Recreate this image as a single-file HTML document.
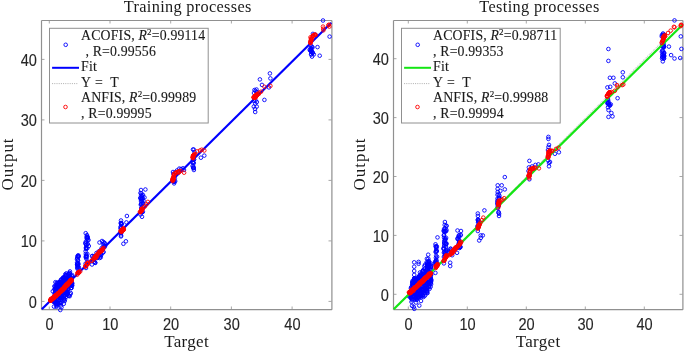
<!DOCTYPE html>
<html><head><meta charset="utf-8"><style>
html,body{margin:0;padding:0;background:#fff;width:685px;height:352px;overflow:hidden}
svg{display:block;will-change:transform}
.tk{font-family:"Liberation Sans",sans-serif;font-size:15.6px;fill:#262626;stroke:#262626;stroke-width:0.12px}
.ti{font-family:"Liberation Serif",serif;font-size:16.3px;fill:#1a1a1a}
.xl{font-family:"Liberation Serif",serif;font-size:17px;fill:#1a1a1a}
.lg{font-family:"Liberation Serif",serif;font-size:13.8px;fill:#1a1a1a;stroke:#1a1a1a;stroke-width:0.12px}
</style></head><body>
<svg width="685" height="352" viewBox="0 0 685 352">
<rect width="685" height="352" fill="#fff"/>
<path d="M41.5,20.5H331.9M41.5,309.7H331.9M41.5,20.5V309.7M331.9,20.5V309.7" fill="none" stroke="#909090" stroke-width="1.2"/>
<line x1="49.3" y1="309.5" x2="49.3" y2="306.5" stroke="#909090" stroke-width="0.8"/>
<line x1="49.3" y1="20.5" x2="49.3" y2="23.5" stroke="#909090" stroke-width="0.8"/>
<line x1="110.0" y1="309.5" x2="110.0" y2="306.5" stroke="#909090" stroke-width="0.8"/>
<line x1="110.0" y1="20.5" x2="110.0" y2="23.5" stroke="#909090" stroke-width="0.8"/>
<line x1="170.7" y1="309.5" x2="170.7" y2="306.5" stroke="#909090" stroke-width="0.8"/>
<line x1="170.7" y1="20.5" x2="170.7" y2="23.5" stroke="#909090" stroke-width="0.8"/>
<line x1="231.40000000000003" y1="309.5" x2="231.40000000000003" y2="306.5" stroke="#909090" stroke-width="0.8"/>
<line x1="231.40000000000003" y1="20.5" x2="231.40000000000003" y2="23.5" stroke="#909090" stroke-width="0.8"/>
<line x1="292.1" y1="309.5" x2="292.1" y2="306.5" stroke="#909090" stroke-width="0.8"/>
<line x1="292.1" y1="20.5" x2="292.1" y2="23.5" stroke="#909090" stroke-width="0.8"/>
<line x1="41.5" y1="301.4" x2="44.5" y2="301.4" stroke="#909090" stroke-width="0.8"/>
<line x1="331.5" y1="301.4" x2="328.5" y2="301.4" stroke="#909090" stroke-width="0.8"/>
<line x1="41.5" y1="240.89999999999998" x2="44.5" y2="240.89999999999998" stroke="#909090" stroke-width="0.8"/>
<line x1="331.5" y1="240.89999999999998" x2="328.5" y2="240.89999999999998" stroke="#909090" stroke-width="0.8"/>
<line x1="41.5" y1="180.39999999999998" x2="44.5" y2="180.39999999999998" stroke="#909090" stroke-width="0.8"/>
<line x1="331.5" y1="180.39999999999998" x2="328.5" y2="180.39999999999998" stroke="#909090" stroke-width="0.8"/>
<line x1="41.5" y1="119.89999999999998" x2="44.5" y2="119.89999999999998" stroke="#909090" stroke-width="0.8"/>
<line x1="331.5" y1="119.89999999999998" x2="328.5" y2="119.89999999999998" stroke="#909090" stroke-width="0.8"/>
<line x1="41.5" y1="59.39999999999998" x2="44.5" y2="59.39999999999998" stroke="#909090" stroke-width="0.8"/>
<line x1="331.5" y1="59.39999999999998" x2="328.5" y2="59.39999999999998" stroke="#909090" stroke-width="0.8"/>
<text transform="translate(49.6,330.2) scale(0.935,1)" text-anchor="middle" class="tk">0</text>
<text transform="translate(110.3,330.2) scale(0.935,1)" text-anchor="middle" class="tk">10</text>
<text transform="translate(171.0,330.2) scale(0.935,1)" text-anchor="middle" class="tk">20</text>
<text transform="translate(231.7,330.2) scale(0.935,1)" text-anchor="middle" class="tk">30</text>
<text transform="translate(292.4,330.2) scale(0.935,1)" text-anchor="middle" class="tk">40</text>
<text transform="translate(36.9,307.9) scale(0.935,1)" text-anchor="end" class="tk">0</text>
<text transform="translate(36.9,247.4) scale(0.935,1)" text-anchor="end" class="tk">10</text>
<text transform="translate(36.9,186.9) scale(0.935,1)" text-anchor="end" class="tk">20</text>
<text transform="translate(36.9,126.4) scale(0.935,1)" text-anchor="end" class="tk">30</text>
<text transform="translate(36.9,65.9) scale(0.935,1)" text-anchor="end" class="tk">40</text>
<g fill="none" stroke="#0000ff" stroke-width="0.9"><circle cx="69.2" cy="283.4" r="1.8"/><circle cx="57.2" cy="293.2" r="1.8"/><circle cx="55.9" cy="288.3" r="1.8"/><circle cx="56.8" cy="292.7" r="1.8"/><circle cx="61.3" cy="290.9" r="1.8"/><circle cx="67.2" cy="279.4" r="1.8"/><circle cx="68.1" cy="279.0" r="1.8"/><circle cx="67.5" cy="281.0" r="1.8"/><circle cx="68.8" cy="281.0" r="1.8"/><circle cx="57.6" cy="301.8" r="1.8"/><circle cx="57.0" cy="294.0" r="1.8"/><circle cx="69.3" cy="278.0" r="1.8"/><circle cx="63.7" cy="278.2" r="1.8"/><circle cx="54.4" cy="298.5" r="1.8"/><circle cx="60.5" cy="297.3" r="1.8"/><circle cx="65.4" cy="284.4" r="1.8"/><circle cx="61.5" cy="307.3" r="1.8"/><circle cx="59.0" cy="292.1" r="1.8"/><circle cx="62.9" cy="279.2" r="1.8"/><circle cx="68.7" cy="276.0" r="1.8"/><circle cx="66.4" cy="291.4" r="1.8"/><circle cx="61.4" cy="297.8" r="1.8"/><circle cx="54.8" cy="289.3" r="1.8"/><circle cx="65.3" cy="279.9" r="1.8"/><circle cx="70.5" cy="284.6" r="1.8"/><circle cx="63.7" cy="297.8" r="1.8"/><circle cx="68.7" cy="282.0" r="1.8"/><circle cx="60.4" cy="291.4" r="1.8"/><circle cx="60.6" cy="298.4" r="1.8"/><circle cx="61.1" cy="288.9" r="1.8"/><circle cx="67.5" cy="290.0" r="1.8"/><circle cx="57.1" cy="287.0" r="1.8"/><circle cx="69.6" cy="275.3" r="1.8"/><circle cx="68.4" cy="274.0" r="1.8"/><circle cx="55.1" cy="302.3" r="1.8"/><circle cx="55.7" cy="291.3" r="1.8"/><circle cx="60.0" cy="284.2" r="1.8"/><circle cx="57.4" cy="293.3" r="1.8"/><circle cx="72.1" cy="282.9" r="1.8"/><circle cx="55.2" cy="291.8" r="1.8"/><circle cx="66.0" cy="287.5" r="1.8"/><circle cx="68.3" cy="278.0" r="1.8"/><circle cx="64.7" cy="301.0" r="1.8"/><circle cx="68.7" cy="277.1" r="1.8"/><circle cx="71.6" cy="276.0" r="1.8"/><circle cx="71.4" cy="283.8" r="1.8"/><circle cx="55.3" cy="290.7" r="1.8"/><circle cx="56.6" cy="294.0" r="1.8"/><circle cx="65.7" cy="278.3" r="1.8"/><circle cx="69.6" cy="273.0" r="1.8"/><circle cx="64.2" cy="277.0" r="1.8"/><circle cx="57.8" cy="286.0" r="1.8"/><circle cx="66.1" cy="293.0" r="1.8"/><circle cx="60.5" cy="287.1" r="1.8"/><circle cx="58.2" cy="283.6" r="1.8"/><circle cx="60.8" cy="293.3" r="1.8"/><circle cx="68.7" cy="295.5" r="1.8"/><circle cx="66.7" cy="279.9" r="1.8"/><circle cx="57.6" cy="293.0" r="1.8"/><circle cx="55.3" cy="301.5" r="1.8"/><circle cx="65.1" cy="283.7" r="1.8"/><circle cx="57.5" cy="286.9" r="1.8"/><circle cx="61.1" cy="296.1" r="1.8"/><circle cx="63.0" cy="292.1" r="1.8"/><circle cx="70.9" cy="278.3" r="1.8"/><circle cx="69.3" cy="282.2" r="1.8"/><circle cx="61.3" cy="286.8" r="1.8"/><circle cx="60.9" cy="295.9" r="1.8"/><circle cx="57.9" cy="295.2" r="1.8"/><circle cx="56.5" cy="297.3" r="1.8"/><circle cx="60.9" cy="283.9" r="1.8"/><circle cx="58.2" cy="294.4" r="1.8"/><circle cx="60.1" cy="286.8" r="1.8"/><circle cx="68.1" cy="286.2" r="1.8"/><circle cx="68.6" cy="277.3" r="1.8"/><circle cx="57.8" cy="291.0" r="1.8"/><circle cx="68.3" cy="277.1" r="1.8"/><circle cx="59.9" cy="293.9" r="1.8"/><circle cx="72.0" cy="283.8" r="1.8"/><circle cx="61.8" cy="295.9" r="1.8"/><circle cx="55.4" cy="297.5" r="1.8"/><circle cx="63.0" cy="277.6" r="1.8"/><circle cx="60.7" cy="293.7" r="1.8"/><circle cx="63.3" cy="290.5" r="1.8"/><circle cx="53.9" cy="302.0" r="1.8"/><circle cx="71.2" cy="285.0" r="1.8"/><circle cx="57.2" cy="284.6" r="1.8"/><circle cx="56.6" cy="289.7" r="1.8"/><circle cx="64.1" cy="277.3" r="1.8"/><circle cx="56.3" cy="305.3" r="1.8"/><circle cx="66.5" cy="292.8" r="1.8"/><circle cx="71.3" cy="281.8" r="1.8"/><circle cx="63.3" cy="286.0" r="1.8"/><circle cx="56.7" cy="301.8" r="1.8"/><circle cx="65.6" cy="288.1" r="1.8"/><circle cx="66.1" cy="292.9" r="1.8"/><circle cx="64.7" cy="282.1" r="1.8"/><circle cx="67.0" cy="294.9" r="1.8"/><circle cx="62.5" cy="294.0" r="1.8"/><circle cx="68.8" cy="280.1" r="1.8"/><circle cx="58.5" cy="302.8" r="1.8"/><circle cx="69.5" cy="273.0" r="1.8"/><circle cx="57.8" cy="295.7" r="1.8"/><circle cx="65.8" cy="276.1" r="1.8"/><circle cx="54.8" cy="286.5" r="1.8"/><circle cx="59.7" cy="289.6" r="1.8"/><circle cx="65.5" cy="291.6" r="1.8"/><circle cx="66.5" cy="285.5" r="1.8"/><circle cx="69.1" cy="285.9" r="1.8"/><circle cx="55.5" cy="287.2" r="1.8"/><circle cx="64.1" cy="296.2" r="1.8"/><circle cx="57.1" cy="287.4" r="1.8"/><circle cx="64.7" cy="287.9" r="1.8"/><circle cx="60.9" cy="282.5" r="1.8"/><circle cx="57.0" cy="298.5" r="1.8"/><circle cx="70.7" cy="285.9" r="1.8"/><circle cx="68.1" cy="289.3" r="1.8"/><circle cx="63.3" cy="288.4" r="1.8"/><circle cx="56.4" cy="306.8" r="1.8"/><circle cx="61.3" cy="303.0" r="1.8"/><circle cx="63.9" cy="282.1" r="1.8"/><circle cx="55.0" cy="301.1" r="1.8"/><circle cx="67.4" cy="293.4" r="1.8"/><circle cx="58.6" cy="284.2" r="1.8"/><circle cx="66.6" cy="291.9" r="1.8"/><circle cx="67.4" cy="293.5" r="1.8"/><circle cx="66.5" cy="281.3" r="1.8"/><circle cx="60.2" cy="297.4" r="1.8"/><circle cx="66.2" cy="296.8" r="1.8"/><circle cx="64.6" cy="295.4" r="1.8"/><circle cx="57.3" cy="304.3" r="1.8"/><circle cx="64.6" cy="281.0" r="1.8"/><circle cx="56.1" cy="291.4" r="1.8"/><circle cx="65.2" cy="284.3" r="1.8"/><circle cx="67.0" cy="284.5" r="1.8"/><circle cx="72.0" cy="284.6" r="1.8"/><circle cx="60.1" cy="286.6" r="1.8"/><circle cx="65.7" cy="292.8" r="1.8"/><circle cx="58.7" cy="284.9" r="1.8"/><circle cx="63.1" cy="293.2" r="1.8"/><circle cx="67.8" cy="282.2" r="1.8"/><circle cx="60.4" cy="298.4" r="1.8"/><circle cx="54.7" cy="294.2" r="1.8"/><circle cx="63.3" cy="293.0" r="1.8"/><circle cx="59.6" cy="294.1" r="1.8"/><circle cx="59.7" cy="302.9" r="1.8"/><circle cx="64.0" cy="279.8" r="1.8"/><circle cx="57.2" cy="305.5" r="1.8"/><circle cx="72.0" cy="285.6" r="1.8"/><circle cx="59.9" cy="282.5" r="1.8"/><circle cx="59.4" cy="281.9" r="1.8"/><circle cx="58.4" cy="303.9" r="1.8"/><circle cx="55.2" cy="301.3" r="1.8"/><circle cx="70.2" cy="276.5" r="1.8"/><circle cx="70.5" cy="278.5" r="1.8"/><circle cx="57.3" cy="291.0" r="1.8"/><circle cx="65.9" cy="294.4" r="1.8"/><circle cx="61.1" cy="296.7" r="1.8"/><circle cx="66.3" cy="275.1" r="1.8"/><circle cx="62.2" cy="283.7" r="1.8"/><circle cx="60.6" cy="302.9" r="1.8"/><circle cx="61.5" cy="298.8" r="1.8"/><circle cx="54.8" cy="293.1" r="1.8"/><circle cx="61.0" cy="282.8" r="1.8"/><circle cx="60.6" cy="288.4" r="1.8"/><circle cx="59.8" cy="297.8" r="1.8"/><circle cx="69.9" cy="279.7" r="1.8"/><circle cx="55.2" cy="292.5" r="1.8"/><circle cx="65.0" cy="299.3" r="1.8"/><circle cx="69.9" cy="275.7" r="1.8"/><circle cx="58.6" cy="297.6" r="1.8"/><circle cx="60.8" cy="290.8" r="1.8"/><circle cx="67.7" cy="275.6" r="1.8"/><circle cx="58.2" cy="296.0" r="1.8"/><circle cx="65.9" cy="275.2" r="1.8"/><circle cx="60.8" cy="305.6" r="1.8"/><circle cx="58.5" cy="289.7" r="1.8"/><circle cx="71.0" cy="288.0" r="1.8"/><circle cx="68.7" cy="281.8" r="1.8"/><circle cx="58.3" cy="282.6" r="1.8"/><circle cx="56.1" cy="302.1" r="1.8"/><circle cx="68.5" cy="295.9" r="1.8"/><circle cx="63.6" cy="284.2" r="1.8"/><circle cx="59.9" cy="294.1" r="1.8"/><circle cx="56.5" cy="303.5" r="1.8"/><circle cx="60.3" cy="281.6" r="1.8"/><circle cx="61.9" cy="295.7" r="1.8"/><circle cx="67.0" cy="291.4" r="1.8"/><circle cx="62.7" cy="278.3" r="1.8"/><circle cx="57.2" cy="303.2" r="1.8"/><circle cx="59.1" cy="283.5" r="1.8"/><circle cx="67.6" cy="291.3" r="1.8"/><circle cx="70.2" cy="294.3" r="1.8"/><circle cx="66.8" cy="283.3" r="1.8"/><circle cx="59.3" cy="289.4" r="1.8"/><circle cx="61.2" cy="286.6" r="1.8"/><circle cx="61.8" cy="287.7" r="1.8"/><circle cx="69.0" cy="274.1" r="1.8"/><circle cx="59.4" cy="288.0" r="1.8"/><circle cx="57.4" cy="291.2" r="1.8"/><circle cx="65.1" cy="292.4" r="1.8"/><circle cx="55.3" cy="295.6" r="1.8"/><circle cx="54.7" cy="296.2" r="1.8"/><circle cx="56.2" cy="292.9" r="1.8"/><circle cx="54.5" cy="302.5" r="1.8"/><circle cx="64.0" cy="277.8" r="1.8"/><circle cx="64.0" cy="300.0" r="1.8"/><circle cx="63.8" cy="278.9" r="1.8"/><circle cx="61.1" cy="281.7" r="1.8"/><circle cx="59.4" cy="290.7" r="1.8"/><circle cx="56.3" cy="288.6" r="1.8"/><circle cx="63.6" cy="299.2" r="1.8"/><circle cx="64.6" cy="288.7" r="1.8"/><circle cx="56.6" cy="290.1" r="1.8"/><circle cx="64.8" cy="279.4" r="1.8"/><circle cx="61.2" cy="296.5" r="1.8"/><circle cx="55.9" cy="296.7" r="1.8"/><circle cx="70.8" cy="293.1" r="1.8"/><circle cx="64.7" cy="290.6" r="1.8"/><circle cx="59.5" cy="302.4" r="1.8"/><circle cx="57.0" cy="298.5" r="1.8"/><circle cx="70.0" cy="283.2" r="1.8"/><circle cx="54.4" cy="299.6" r="1.8"/><circle cx="63.2" cy="293.1" r="1.8"/><circle cx="65.5" cy="290.5" r="1.8"/><circle cx="72.1" cy="285.7" r="1.8"/><circle cx="56.6" cy="303.9" r="1.8"/><circle cx="57.7" cy="293.0" r="1.8"/><circle cx="56.1" cy="286.1" r="1.8"/><circle cx="63.8" cy="303.8" r="1.8"/><circle cx="55.5" cy="288.3" r="1.8"/><circle cx="61.3" cy="282.6" r="1.8"/><circle cx="69.7" cy="296.2" r="1.8"/><circle cx="67.5" cy="293.1" r="1.8"/><circle cx="71.6" cy="283.6" r="1.8"/><circle cx="58.0" cy="288.9" r="1.8"/><circle cx="61.4" cy="292.5" r="1.8"/><circle cx="57.7" cy="293.0" r="1.8"/><circle cx="72.1" cy="275.0" r="1.8"/><circle cx="72.0" cy="283.3" r="1.8"/><circle cx="68.1" cy="288.6" r="1.8"/><circle cx="59.6" cy="282.3" r="1.8"/><circle cx="71.6" cy="287.8" r="1.8"/><circle cx="54.4" cy="301.9" r="1.8"/><circle cx="56.7" cy="282.8" r="1.8"/><circle cx="70.9" cy="288.2" r="1.8"/><circle cx="57.3" cy="291.6" r="1.8"/><circle cx="67.2" cy="293.1" r="1.8"/><circle cx="68.5" cy="284.0" r="1.8"/><circle cx="71.6" cy="279.2" r="1.8"/><circle cx="55.4" cy="282.2" r="1.8"/><circle cx="54.5" cy="286.2" r="1.8"/><circle cx="54.5" cy="289.3" r="1.8"/><circle cx="61.0" cy="280.0" r="1.8"/><circle cx="65.3" cy="274.3" r="1.8"/><circle cx="61.1" cy="279.6" r="1.8"/><circle cx="66.3" cy="273.4" r="1.8"/><circle cx="69.9" cy="271.4" r="1.8"/><circle cx="54.0" cy="306.6" r="1.8"/><circle cx="60.3" cy="310.0" r="1.8"/><circle cx="52.8" cy="291.3" r="1.8"/><circle cx="57.0" cy="283.0" r="1.8"/><circle cx="78.5" cy="263.8" r="1.8"/><circle cx="77.9" cy="256.6" r="1.8"/><circle cx="78.6" cy="255.6" r="1.8"/><circle cx="78.3" cy="257.0" r="1.8"/><circle cx="78.0" cy="264.5" r="1.8"/><circle cx="77.5" cy="267.2" r="1.8"/><circle cx="77.6" cy="268.9" r="1.8"/><circle cx="77.9" cy="266.1" r="1.8"/><circle cx="78.0" cy="260.5" r="1.8"/><circle cx="77.2" cy="265.0" r="1.8"/><circle cx="77.1" cy="262.8" r="1.8"/><circle cx="77.9" cy="260.0" r="1.8"/><circle cx="77.6" cy="263.0" r="1.8"/><circle cx="78.9" cy="267.8" r="1.8"/><circle cx="77.7" cy="264.7" r="1.8"/><circle cx="78.4" cy="266.7" r="1.8"/><circle cx="78.4" cy="256.5" r="1.8"/><circle cx="77.3" cy="267.7" r="1.8"/><circle cx="77.6" cy="264.3" r="1.8"/><circle cx="77.1" cy="264.5" r="1.8"/><circle cx="77.6" cy="256.1" r="1.8"/><circle cx="77.0" cy="259.2" r="1.8"/><circle cx="78.0" cy="255.5" r="1.8"/><circle cx="77.2" cy="258.0" r="1.8"/><circle cx="86.2" cy="248.4" r="1.8"/><circle cx="87.8" cy="244.0" r="1.8"/><circle cx="86.0" cy="247.9" r="1.8"/><circle cx="86.2" cy="247.4" r="1.8"/><circle cx="86.7" cy="238.4" r="1.8"/><circle cx="87.3" cy="254.0" r="1.8"/><circle cx="87.3" cy="248.2" r="1.8"/><circle cx="85.8" cy="257.3" r="1.8"/><circle cx="87.6" cy="261.8" r="1.8"/><circle cx="87.2" cy="238.8" r="1.8"/><circle cx="86.1" cy="255.7" r="1.8"/><circle cx="85.5" cy="243.5" r="1.8"/><circle cx="86.4" cy="258.9" r="1.8"/><circle cx="85.5" cy="243.2" r="1.8"/><circle cx="87.0" cy="235.1" r="1.8"/><circle cx="86.2" cy="257.1" r="1.8"/><circle cx="86.6" cy="257.3" r="1.8"/><circle cx="86.0" cy="256.4" r="1.8"/><circle cx="85.8" cy="253.9" r="1.8"/><circle cx="87.4" cy="236.9" r="1.8"/><circle cx="86.1" cy="244.9" r="1.8"/><circle cx="87.6" cy="237.1" r="1.8"/><circle cx="86.4" cy="264.9" r="1.8"/><circle cx="85.6" cy="263.7" r="1.8"/><circle cx="85.6" cy="251.3" r="1.8"/><circle cx="86.5" cy="255.5" r="1.8"/><circle cx="86.1" cy="249.1" r="1.8"/><circle cx="87.6" cy="239.9" r="1.8"/><circle cx="87.6" cy="237.9" r="1.8"/><circle cx="85.8" cy="241.7" r="1.8"/><circle cx="86.7" cy="244.3" r="1.8"/><circle cx="86.6" cy="236.8" r="1.8"/><circle cx="85.7" cy="233.2" r="1.8"/><circle cx="86.0" cy="268.0" r="1.8"/><circle cx="88.5" cy="240.0" r="1.8"/><circle cx="88.8" cy="246.0" r="1.8"/><circle cx="103.6" cy="252.0" r="1.8"/><circle cx="100.4" cy="254.8" r="1.8"/><circle cx="98.9" cy="253.4" r="1.8"/><circle cx="96.0" cy="258.1" r="1.8"/><circle cx="96.5" cy="253.0" r="1.8"/><circle cx="101.7" cy="248.1" r="1.8"/><circle cx="101.2" cy="255.0" r="1.8"/><circle cx="92.0" cy="256.2" r="1.8"/><circle cx="103.2" cy="244.4" r="1.8"/><circle cx="97.6" cy="257.9" r="1.8"/><circle cx="104.7" cy="243.0" r="1.8"/><circle cx="94.7" cy="256.2" r="1.8"/><circle cx="100.8" cy="257.3" r="1.8"/><circle cx="104.1" cy="245.8" r="1.8"/><circle cx="100.2" cy="256.1" r="1.8"/><circle cx="103.4" cy="247.6" r="1.8"/><circle cx="95.0" cy="262.2" r="1.8"/><circle cx="93.0" cy="258.8" r="1.8"/><circle cx="92.7" cy="260.7" r="1.8"/><circle cx="95.2" cy="262.9" r="1.8"/><circle cx="93.9" cy="256.8" r="1.8"/><circle cx="100.5" cy="250.4" r="1.8"/><circle cx="99.0" cy="253.6" r="1.8"/><circle cx="102.9" cy="252.7" r="1.8"/><circle cx="92.5" cy="255.9" r="1.8"/><circle cx="105.1" cy="246.0" r="1.8"/><circle cx="93.9" cy="261.8" r="1.8"/><circle cx="98.7" cy="251.5" r="1.8"/><circle cx="100.7" cy="250.5" r="1.8"/><circle cx="99.0" cy="254.2" r="1.8"/><circle cx="104.4" cy="247.3" r="1.8"/><circle cx="99.7" cy="258.0" r="1.8"/><circle cx="95.1" cy="262.8" r="1.8"/><circle cx="101.2" cy="253.4" r="1.8"/><circle cx="103.4" cy="242.0" r="1.8"/><circle cx="97.1" cy="257.6" r="1.8"/><circle cx="102.0" cy="241.0" r="1.8"/><circle cx="99.5" cy="242.5" r="1.8"/><circle cx="104.2" cy="243.5" r="1.8"/><circle cx="92.0" cy="264.5" r="1.8"/><circle cx="99.3" cy="253.0" r="1.8"/><circle cx="101.5" cy="250.5" r="1.8"/><circle cx="120.8" cy="228.3" r="1.8"/><circle cx="120.7" cy="232.3" r="1.8"/><circle cx="121.1" cy="235.5" r="1.8"/><circle cx="120.7" cy="228.8" r="1.8"/><circle cx="120.9" cy="227.0" r="1.8"/><circle cx="121.5" cy="224.1" r="1.8"/><circle cx="120.7" cy="226.8" r="1.8"/><circle cx="120.9" cy="232.4" r="1.8"/><circle cx="121.3" cy="224.6" r="1.8"/><circle cx="121.4" cy="224.1" r="1.8"/><circle cx="120.7" cy="223.1" r="1.8"/><circle cx="121.2" cy="232.5" r="1.8"/><circle cx="121.3" cy="223.0" r="1.8"/><circle cx="121.0" cy="233.2" r="1.8"/><circle cx="126.9" cy="216.0" r="1.8"/><circle cx="126.4" cy="222.4" r="1.8"/><circle cx="123.4" cy="243.8" r="1.8"/><circle cx="125.9" cy="241.3" r="1.8"/><circle cx="121.0" cy="236.4" r="1.8"/><circle cx="121.0" cy="220.5" r="1.8"/><circle cx="121.2" cy="223.5" r="1.8"/><circle cx="140.8" cy="204.7" r="1.8"/><circle cx="142.7" cy="198.1" r="1.8"/><circle cx="142.2" cy="198.5" r="1.8"/><circle cx="142.9" cy="203.5" r="1.8"/><circle cx="141.6" cy="212.4" r="1.8"/><circle cx="141.9" cy="201.0" r="1.8"/><circle cx="141.1" cy="195.3" r="1.8"/><circle cx="141.4" cy="193.5" r="1.8"/><circle cx="142.9" cy="211.8" r="1.8"/><circle cx="142.8" cy="203.1" r="1.8"/><circle cx="141.5" cy="199.0" r="1.8"/><circle cx="141.0" cy="199.0" r="1.8"/><circle cx="141.4" cy="203.6" r="1.8"/><circle cx="141.1" cy="204.0" r="1.8"/><circle cx="141.9" cy="196.0" r="1.8"/><circle cx="142.1" cy="212.0" r="1.8"/><circle cx="142.6" cy="204.4" r="1.8"/><circle cx="141.2" cy="208.0" r="1.8"/><circle cx="141.2" cy="210.8" r="1.8"/><circle cx="141.3" cy="197.1" r="1.8"/><circle cx="141.0" cy="190.0" r="1.8"/><circle cx="145.4" cy="189.5" r="1.8"/><circle cx="140.5" cy="193.0" r="1.8"/><circle cx="143.0" cy="195.0" r="1.8"/><circle cx="144.5" cy="197.5" r="1.8"/><circle cx="140.2" cy="198.0" r="1.8"/><circle cx="141.0" cy="201.0" r="1.8"/><circle cx="143.5" cy="201.0" r="1.8"/><circle cx="142.0" cy="216.8" r="1.8"/><circle cx="140.5" cy="214.5" r="1.8"/><circle cx="174.8" cy="178.5" r="1.8"/><circle cx="175.3" cy="172.7" r="1.8"/><circle cx="174.3" cy="174.7" r="1.8"/><circle cx="175.4" cy="172.6" r="1.8"/><circle cx="175.2" cy="181.2" r="1.8"/><circle cx="172.7" cy="180.8" r="1.8"/><circle cx="174.0" cy="181.0" r="1.8"/><circle cx="173.9" cy="181.8" r="1.8"/><circle cx="173.4" cy="173.9" r="1.8"/><circle cx="174.4" cy="181.8" r="1.8"/><circle cx="179.3" cy="168.6" r="1.8"/><circle cx="183.0" cy="168.3" r="1.8"/><circle cx="173.0" cy="172.0" r="1.8"/><circle cx="174.1" cy="183.4" r="1.8"/><circle cx="181.0" cy="169.0" r="1.8"/><circle cx="177.0" cy="170.5" r="1.8"/><circle cx="184.0" cy="170.0" r="1.8"/><circle cx="193.4" cy="166.6" r="1.8"/><circle cx="193.6" cy="167.8" r="1.8"/><circle cx="193.2" cy="167.8" r="1.8"/><circle cx="192.6" cy="166.0" r="1.8"/><circle cx="192.8" cy="162.4" r="1.8"/><circle cx="194.0" cy="159.5" r="1.8"/><circle cx="193.8" cy="163.1" r="1.8"/><circle cx="193.8" cy="149.6" r="1.8"/><circle cx="193.2" cy="162.5" r="1.8"/><circle cx="193.6" cy="168.3" r="1.8"/><circle cx="192.8" cy="160.0" r="1.8"/><circle cx="193.4" cy="157.5" r="1.8"/><circle cx="193.9" cy="159.6" r="1.8"/><circle cx="192.6" cy="162.3" r="1.8"/><circle cx="193.9" cy="170.0" r="1.8"/><circle cx="193.0" cy="149.5" r="1.8"/><circle cx="200.9" cy="157.7" r="1.8"/><circle cx="204.3" cy="155.6" r="1.8"/><circle cx="194.5" cy="152.0" r="1.8"/><circle cx="254.5" cy="90.0" r="1.8"/><circle cx="256.5" cy="89.5" r="1.8"/><circle cx="254.0" cy="93.0" r="1.8"/><circle cx="257.0" cy="92.0" r="1.8"/><circle cx="255.5" cy="91.0" r="1.8"/><circle cx="253.8" cy="106.6" r="1.8"/><circle cx="256.7" cy="106.6" r="1.8"/><circle cx="255.2" cy="103.7" r="1.8"/><circle cx="255.5" cy="100.5" r="1.8"/><circle cx="254.0" cy="101.0" r="1.8"/><circle cx="256.8" cy="102.0" r="1.8"/><circle cx="255.2" cy="112.0" r="1.8"/><circle cx="255.0" cy="109.0" r="1.8"/><circle cx="264.4" cy="99.9" r="1.8"/><circle cx="262.0" cy="84.9" r="1.8"/><circle cx="259.9" cy="79.4" r="1.8"/><circle cx="269.9" cy="73.4" r="1.8"/><circle cx="270.4" cy="78.4" r="1.8"/><circle cx="268.9" cy="87.4" r="1.8"/><circle cx="312.6" cy="52.8" r="1.8"/><circle cx="311.4" cy="54.3" r="1.8"/><circle cx="310.8" cy="45.5" r="1.8"/><circle cx="312.5" cy="52.3" r="1.8"/><circle cx="310.7" cy="48.3" r="1.8"/><circle cx="310.4" cy="50.5" r="1.8"/><circle cx="311.7" cy="51.1" r="1.8"/><circle cx="312.6" cy="53.0" r="1.8"/><circle cx="311.2" cy="49.2" r="1.8"/><circle cx="310.6" cy="50.7" r="1.8"/><circle cx="311.3" cy="51.7" r="1.8"/><circle cx="311.1" cy="48.7" r="1.8"/><circle cx="312.0" cy="46.8" r="1.8"/><circle cx="310.9" cy="50.5" r="1.8"/><circle cx="312.9" cy="33.9" r="1.8"/><circle cx="315.6" cy="34.8" r="1.8"/><circle cx="311.1" cy="54.4" r="1.8"/><circle cx="313.8" cy="54.4" r="1.8"/><circle cx="312.0" cy="56.6" r="1.8"/><circle cx="309.7" cy="49.8" r="1.8"/><circle cx="312.5" cy="47.5" r="1.8"/><circle cx="317.5" cy="47.1" r="1.8"/><circle cx="319.7" cy="55.7" r="1.8"/><circle cx="323.0" cy="20.5" r="1.8"/><circle cx="329.6" cy="36.6" r="1.8"/></g>
<line x1="41.8" y1="309.2" x2="331.3" y2="22.8" stroke="#0000ff" stroke-width="2.2"/>
<g fill="none" stroke="#ff0000" stroke-width="0.9"><circle cx="52.5" cy="298.2" r="1.8"/><circle cx="52.6" cy="298.6" r="1.8"/><circle cx="50.8" cy="300.0" r="1.8"/><circle cx="53.0" cy="297.9" r="1.8"/><circle cx="56.4" cy="295.2" r="1.8"/><circle cx="54.1" cy="297.6" r="1.8"/><circle cx="56.0" cy="295.7" r="1.8"/><circle cx="51.8" cy="298.7" r="1.8"/><circle cx="51.1" cy="299.5" r="1.8"/><circle cx="50.5" cy="300.2" r="1.8"/><circle cx="51.2" cy="299.2" r="1.8"/><circle cx="54.3" cy="296.3" r="1.8"/><circle cx="54.5" cy="296.0" r="1.8"/><circle cx="53.5" cy="297.4" r="1.8"/><circle cx="54.3" cy="296.2" r="1.8"/><circle cx="60.6" cy="291.3" r="1.8"/><circle cx="59.1" cy="292.5" r="1.8"/><circle cx="55.9" cy="295.9" r="1.8"/><circle cx="52.8" cy="298.6" r="1.8"/><circle cx="51.6" cy="299.5" r="1.8"/><circle cx="53.7" cy="297.8" r="1.8"/><circle cx="53.2" cy="298.1" r="1.8"/><circle cx="50.5" cy="300.2" r="1.8"/><circle cx="53.4" cy="298.1" r="1.8"/><circle cx="61.9" cy="290.1" r="1.8"/><circle cx="53.5" cy="298.1" r="1.8"/><circle cx="57.0" cy="294.7" r="1.8"/><circle cx="60.4" cy="291.6" r="1.8"/><circle cx="58.2" cy="293.9" r="1.8"/><circle cx="51.7" cy="299.1" r="1.8"/><circle cx="50.9" cy="299.5" r="1.8"/><circle cx="59.9" cy="292.3" r="1.8"/><circle cx="60.3" cy="291.9" r="1.8"/><circle cx="56.9" cy="294.6" r="1.8"/><circle cx="55.9" cy="295.4" r="1.8"/><circle cx="51.4" cy="299.1" r="1.8"/><circle cx="52.9" cy="298.6" r="1.8"/><circle cx="60.9" cy="290.5" r="1.8"/><circle cx="56.4" cy="295.8" r="1.8"/><circle cx="50.8" cy="298.9" r="1.8"/><circle cx="58.7" cy="293.0" r="1.8"/><circle cx="51.6" cy="300.0" r="1.8"/><circle cx="59.4" cy="292.2" r="1.8"/><circle cx="55.8" cy="295.6" r="1.8"/><circle cx="61.1" cy="291.7" r="1.8"/><circle cx="50.3" cy="300.5" r="1.8"/><circle cx="56.9" cy="295.3" r="1.8"/><circle cx="62.5" cy="290.0" r="1.8"/><circle cx="52.2" cy="299.4" r="1.8"/><circle cx="53.4" cy="297.7" r="1.8"/><circle cx="52.2" cy="299.0" r="1.8"/><circle cx="53.2" cy="298.1" r="1.8"/><circle cx="54.7" cy="297.1" r="1.8"/><circle cx="50.6" cy="299.9" r="1.8"/><circle cx="50.8" cy="300.6" r="1.8"/><circle cx="59.0" cy="293.4" r="1.8"/><circle cx="51.4" cy="299.0" r="1.8"/><circle cx="52.7" cy="297.8" r="1.8"/><circle cx="53.3" cy="297.8" r="1.8"/><circle cx="52.9" cy="297.8" r="1.8"/><circle cx="53.8" cy="297.2" r="1.8"/><circle cx="53.1" cy="298.2" r="1.8"/><circle cx="56.7" cy="294.8" r="1.8"/><circle cx="58.2" cy="293.3" r="1.8"/><circle cx="56.2" cy="295.3" r="1.8"/><circle cx="53.6" cy="298.0" r="1.8"/><circle cx="61.6" cy="290.3" r="1.8"/><circle cx="55.3" cy="296.5" r="1.8"/><circle cx="60.1" cy="291.7" r="1.8"/><circle cx="55.3" cy="295.4" r="1.8"/><circle cx="58.6" cy="293.6" r="1.8"/><circle cx="59.9" cy="291.5" r="1.8"/><circle cx="60.1" cy="291.4" r="1.8"/><circle cx="53.2" cy="298.4" r="1.8"/><circle cx="52.4" cy="298.4" r="1.8"/><circle cx="51.7" cy="299.8" r="1.8"/><circle cx="61.8" cy="290.8" r="1.8"/><circle cx="55.9" cy="296.2" r="1.8"/><circle cx="54.0" cy="298.0" r="1.8"/><circle cx="59.3" cy="293.0" r="1.8"/><circle cx="53.8" cy="297.0" r="1.8"/><circle cx="58.7" cy="294.0" r="1.8"/><circle cx="58.2" cy="293.3" r="1.8"/><circle cx="59.1" cy="292.8" r="1.8"/><circle cx="58.0" cy="293.3" r="1.8"/><circle cx="51.5" cy="299.3" r="1.8"/><circle cx="53.1" cy="298.4" r="1.8"/><circle cx="53.7" cy="297.1" r="1.8"/><circle cx="55.1" cy="296.7" r="1.8"/><circle cx="59.7" cy="292.2" r="1.8"/><circle cx="58.1" cy="293.7" r="1.8"/><circle cx="61.4" cy="290.3" r="1.8"/><circle cx="54.8" cy="295.9" r="1.8"/><circle cx="62.1" cy="290.5" r="1.8"/><circle cx="60.5" cy="291.2" r="1.8"/><circle cx="56.9" cy="294.9" r="1.8"/><circle cx="50.6" cy="300.2" r="1.8"/><circle cx="55.1" cy="296.4" r="1.8"/><circle cx="51.2" cy="300.0" r="1.8"/><circle cx="57.0" cy="294.6" r="1.8"/><circle cx="54.1" cy="297.5" r="1.8"/><circle cx="58.7" cy="293.8" r="1.8"/><circle cx="51.7" cy="299.1" r="1.8"/><circle cx="51.0" cy="300.6" r="1.8"/><circle cx="57.6" cy="293.6" r="1.8"/><circle cx="61.1" cy="291.2" r="1.8"/><circle cx="58.5" cy="293.8" r="1.8"/><circle cx="60.7" cy="290.6" r="1.8"/><circle cx="53.4" cy="297.8" r="1.8"/><circle cx="53.7" cy="296.9" r="1.8"/><circle cx="66.0" cy="285.7" r="1.8"/><circle cx="66.8" cy="285.1" r="1.8"/><circle cx="65.7" cy="286.5" r="1.8"/><circle cx="62.9" cy="289.2" r="1.8"/><circle cx="64.6" cy="287.1" r="1.8"/><circle cx="66.2" cy="284.7" r="1.8"/><circle cx="67.3" cy="285.0" r="1.8"/><circle cx="64.8" cy="287.5" r="1.8"/><circle cx="65.3" cy="286.2" r="1.8"/><circle cx="62.1" cy="289.0" r="1.8"/><circle cx="68.2" cy="284.1" r="1.8"/><circle cx="62.6" cy="289.3" r="1.8"/><circle cx="67.6" cy="284.0" r="1.8"/><circle cx="62.7" cy="289.2" r="1.8"/><circle cx="62.7" cy="289.4" r="1.8"/><circle cx="65.3" cy="286.2" r="1.8"/><circle cx="62.6" cy="289.5" r="1.8"/><circle cx="62.5" cy="289.5" r="1.8"/><circle cx="64.9" cy="287.9" r="1.8"/><circle cx="63.2" cy="289.5" r="1.8"/><circle cx="67.7" cy="283.8" r="1.8"/><circle cx="70.4" cy="280.1" r="1.8"/><circle cx="62.6" cy="289.0" r="1.8"/><circle cx="70.1" cy="281.1" r="1.8"/><circle cx="64.4" cy="287.2" r="1.8"/><circle cx="71.4" cy="279.9" r="1.8"/><circle cx="69.6" cy="281.9" r="1.8"/><circle cx="71.1" cy="280.2" r="1.8"/><circle cx="64.6" cy="288.1" r="1.8"/><circle cx="69.8" cy="282.4" r="1.8"/><circle cx="65.3" cy="286.3" r="1.8"/><circle cx="65.5" cy="287.0" r="1.8"/><circle cx="69.1" cy="282.4" r="1.8"/><circle cx="70.6" cy="280.4" r="1.8"/><circle cx="64.1" cy="287.0" r="1.8"/><circle cx="67.2" cy="284.3" r="1.8"/><circle cx="66.3" cy="284.9" r="1.8"/><circle cx="67.8" cy="285.0" r="1.8"/><circle cx="67.0" cy="285.8" r="1.8"/><circle cx="65.5" cy="286.6" r="1.8"/><circle cx="68.8" cy="282.2" r="1.8"/><circle cx="62.3" cy="289.4" r="1.8"/><circle cx="65.1" cy="287.6" r="1.8"/><circle cx="65.5" cy="286.7" r="1.8"/><circle cx="65.6" cy="286.1" r="1.8"/><circle cx="63.7" cy="289.2" r="1.8"/><circle cx="69.6" cy="282.4" r="1.8"/><circle cx="68.3" cy="283.6" r="1.8"/><circle cx="63.6" cy="288.3" r="1.8"/><circle cx="69.5" cy="282.8" r="1.8"/><circle cx="68.3" cy="283.2" r="1.8"/><circle cx="66.7" cy="285.4" r="1.8"/><circle cx="65.1" cy="287.0" r="1.8"/><circle cx="65.6" cy="286.2" r="1.8"/><circle cx="69.2" cy="282.7" r="1.8"/><circle cx="70.9" cy="280.2" r="1.8"/><circle cx="71.5" cy="279.7" r="1.8"/><circle cx="70.7" cy="280.3" r="1.8"/><circle cx="65.0" cy="286.0" r="1.8"/><circle cx="66.9" cy="284.7" r="1.8"/><circle cx="62.0" cy="290.0" r="1.8"/><circle cx="67.4" cy="283.6" r="1.8"/><circle cx="66.0" cy="285.5" r="1.8"/><circle cx="67.0" cy="284.3" r="1.8"/><circle cx="63.9" cy="288.2" r="1.8"/><circle cx="65.9" cy="285.6" r="1.8"/><circle cx="68.6" cy="283.1" r="1.8"/><circle cx="63.9" cy="287.9" r="1.8"/><circle cx="64.3" cy="287.5" r="1.8"/><circle cx="67.3" cy="285.0" r="1.8"/><circle cx="68.8" cy="283.1" r="1.8"/><circle cx="70.6" cy="281.1" r="1.8"/><circle cx="66.6" cy="284.9" r="1.8"/><circle cx="63.0" cy="288.5" r="1.8"/><circle cx="70.9" cy="280.0" r="1.8"/><circle cx="66.8" cy="285.3" r="1.8"/><circle cx="64.5" cy="287.2" r="1.8"/><circle cx="67.2" cy="284.6" r="1.8"/><circle cx="62.7" cy="290.0" r="1.8"/><circle cx="71.3" cy="280.6" r="1.8"/><circle cx="66.1" cy="285.2" r="1.8"/><circle cx="70.2" cy="280.8" r="1.8"/><circle cx="70.7" cy="280.7" r="1.8"/><circle cx="66.4" cy="285.2" r="1.8"/><circle cx="69.2" cy="282.5" r="1.8"/><circle cx="68.2" cy="283.7" r="1.8"/><circle cx="71.6" cy="281.1" r="1.8"/><circle cx="70.5" cy="281.0" r="1.8"/><circle cx="69.0" cy="283.6" r="1.8"/><circle cx="64.8" cy="287.8" r="1.8"/><circle cx="78.3" cy="272.9" r="1.8"/><circle cx="78.7" cy="272.6" r="1.8"/><circle cx="78.9" cy="272.7" r="1.8"/><circle cx="79.1" cy="271.7" r="1.8"/><circle cx="78.5" cy="272.6" r="1.8"/><circle cx="78.0" cy="272.5" r="1.8"/><circle cx="80.2" cy="271.5" r="1.8"/><circle cx="77.7" cy="273.1" r="1.8"/><circle cx="77.7" cy="272.8" r="1.8"/><circle cx="77.2" cy="274.7" r="1.8"/><circle cx="86.2" cy="265.7" r="1.8"/><circle cx="86.9" cy="263.6" r="1.8"/><circle cx="85.3" cy="266.5" r="1.8"/><circle cx="87.5" cy="263.1" r="1.8"/><circle cx="85.7" cy="266.1" r="1.8"/><circle cx="87.6" cy="262.7" r="1.8"/><circle cx="85.6" cy="266.4" r="1.8"/><circle cx="85.8" cy="265.7" r="1.8"/><circle cx="87.6" cy="264.3" r="1.8"/><circle cx="87.8" cy="263.9" r="1.8"/><circle cx="96.2" cy="255.7" r="1.8"/><circle cx="94.2" cy="258.2" r="1.8"/><circle cx="100.0" cy="251.8" r="1.8"/><circle cx="102.3" cy="249.6" r="1.8"/><circle cx="100.1" cy="251.1" r="1.8"/><circle cx="101.8" cy="250.9" r="1.8"/><circle cx="96.1" cy="257.8" r="1.8"/><circle cx="103.6" cy="248.0" r="1.8"/><circle cx="91.2" cy="261.0" r="1.8"/><circle cx="101.7" cy="250.7" r="1.8"/><circle cx="101.7" cy="250.1" r="1.8"/><circle cx="99.5" cy="252.7" r="1.8"/><circle cx="102.6" cy="248.6" r="1.8"/><circle cx="101.0" cy="251.1" r="1.8"/><circle cx="95.2" cy="256.4" r="1.8"/><circle cx="93.3" cy="258.7" r="1.8"/><circle cx="96.5" cy="256.6" r="1.8"/><circle cx="95.2" cy="258.0" r="1.8"/><circle cx="95.5" cy="256.7" r="1.8"/><circle cx="97.3" cy="254.0" r="1.8"/><circle cx="97.5" cy="255.2" r="1.8"/><circle cx="102.7" cy="249.4" r="1.8"/><circle cx="100.0" cy="252.0" r="1.8"/><circle cx="96.9" cy="255.8" r="1.8"/><circle cx="92.4" cy="260.6" r="1.8"/><circle cx="95.6" cy="256.6" r="1.8"/><circle cx="95.5" cy="256.0" r="1.8"/><circle cx="98.8" cy="251.9" r="1.8"/><circle cx="122.3" cy="230.0" r="1.8"/><circle cx="123.1" cy="229.4" r="1.8"/><circle cx="121.7" cy="230.0" r="1.8"/><circle cx="122.4" cy="230.8" r="1.8"/><circle cx="122.0" cy="231.0" r="1.8"/><circle cx="121.0" cy="230.6" r="1.8"/><circle cx="123.4" cy="228.2" r="1.8"/><circle cx="122.4" cy="229.6" r="1.8"/><circle cx="121.4" cy="232.1" r="1.8"/><circle cx="123.2" cy="230.0" r="1.8"/><circle cx="120.4" cy="231.2" r="1.8"/><circle cx="123.8" cy="229.7" r="1.8"/><circle cx="123.1" cy="230.2" r="1.8"/><circle cx="123.7" cy="228.9" r="1.8"/><circle cx="121.3" cy="231.0" r="1.8"/><circle cx="123.1" cy="229.2" r="1.8"/><circle cx="121.5" cy="231.5" r="1.8"/><circle cx="121.8" cy="230.9" r="1.8"/><circle cx="142.3" cy="209.4" r="1.8"/><circle cx="142.1" cy="209.1" r="1.8"/><circle cx="141.7" cy="210.1" r="1.8"/><circle cx="141.8" cy="209.5" r="1.8"/><circle cx="141.1" cy="211.0" r="1.8"/><circle cx="141.9" cy="209.2" r="1.8"/><circle cx="141.6" cy="208.9" r="1.8"/><circle cx="141.7" cy="210.6" r="1.8"/><circle cx="142.3" cy="209.1" r="1.8"/><circle cx="141.8" cy="210.7" r="1.8"/><circle cx="141.8" cy="209.6" r="1.8"/><circle cx="140.7" cy="211.8" r="1.8"/><circle cx="141.6" cy="211.0" r="1.8"/><circle cx="140.4" cy="212.2" r="1.8"/><circle cx="139.9" cy="211.9" r="1.8"/><circle cx="141.8" cy="209.8" r="1.8"/><circle cx="144.9" cy="206.4" r="1.8"/><circle cx="146.5" cy="204.2" r="1.8"/><circle cx="147.9" cy="201.9" r="1.8"/><circle cx="143.5" cy="207.5" r="1.8"/><circle cx="172.8" cy="179.4" r="1.8"/><circle cx="172.9" cy="178.1" r="1.8"/><circle cx="173.2" cy="178.4" r="1.8"/><circle cx="172.6" cy="181.1" r="1.8"/><circle cx="172.9" cy="179.2" r="1.8"/><circle cx="174.0" cy="175.6" r="1.8"/><circle cx="173.3" cy="176.8" r="1.8"/><circle cx="173.4" cy="177.7" r="1.8"/><circle cx="173.0" cy="180.2" r="1.8"/><circle cx="172.6" cy="179.9" r="1.8"/><circle cx="172.7" cy="180.1" r="1.8"/><circle cx="173.5" cy="179.5" r="1.8"/><circle cx="173.4" cy="178.5" r="1.8"/><circle cx="173.0" cy="180.1" r="1.8"/><circle cx="177.8" cy="172.0" r="1.8"/><circle cx="180.6" cy="171.0" r="1.8"/><circle cx="179.2" cy="171.2" r="1.8"/><circle cx="178.0" cy="171.8" r="1.8"/><circle cx="173.9" cy="174.1" r="1.8"/><circle cx="178.8" cy="172.5" r="1.8"/><circle cx="176.2" cy="172.3" r="1.8"/><circle cx="175.2" cy="173.2" r="1.8"/><circle cx="174.1" cy="174.2" r="1.8"/><circle cx="175.7" cy="173.4" r="1.8"/><circle cx="184.1" cy="172.7" r="1.8"/><circle cx="172.8" cy="179.0" r="1.8"/><circle cx="193.1" cy="155.8" r="1.8"/><circle cx="192.6" cy="157.6" r="1.8"/><circle cx="193.2" cy="156.3" r="1.8"/><circle cx="192.9" cy="156.7" r="1.8"/><circle cx="194.0" cy="154.6" r="1.8"/><circle cx="193.1" cy="155.9" r="1.8"/><circle cx="192.9" cy="157.4" r="1.8"/><circle cx="193.2" cy="158.2" r="1.8"/><circle cx="193.8" cy="155.3" r="1.8"/><circle cx="193.2" cy="155.5" r="1.8"/><circle cx="193.7" cy="155.0" r="1.8"/><circle cx="192.9" cy="157.4" r="1.8"/><circle cx="195.0" cy="154.0" r="1.8"/><circle cx="197.0" cy="151.4" r="1.8"/><circle cx="200.0" cy="150.5" r="1.8"/><circle cx="204.3" cy="150.5" r="1.8"/><circle cx="201.7" cy="149.7" r="1.8"/><circle cx="255.3" cy="95.4" r="1.8"/><circle cx="256.5" cy="95.8" r="1.8"/><circle cx="255.1" cy="96.2" r="1.8"/><circle cx="253.7" cy="97.5" r="1.8"/><circle cx="254.0" cy="97.6" r="1.8"/><circle cx="256.6" cy="95.7" r="1.8"/><circle cx="255.5" cy="95.5" r="1.8"/><circle cx="253.6" cy="97.2" r="1.8"/><circle cx="254.8" cy="96.0" r="1.8"/><circle cx="254.8" cy="97.8" r="1.8"/><circle cx="255.5" cy="96.5" r="1.8"/><circle cx="254.1" cy="97.6" r="1.8"/><circle cx="255.7" cy="97.4" r="1.8"/><circle cx="255.7" cy="97.0" r="1.8"/><circle cx="261.1" cy="91.7" r="1.8"/><circle cx="259.2" cy="92.6" r="1.8"/><circle cx="258.8" cy="93.9" r="1.8"/><circle cx="257.0" cy="94.1" r="1.8"/><circle cx="256.6" cy="95.6" r="1.8"/><circle cx="257.6" cy="94.7" r="1.8"/><circle cx="264.4" cy="86.8" r="1.8"/><circle cx="270.4" cy="85.9" r="1.8"/><circle cx="311.5" cy="40.0" r="1.8"/><circle cx="311.1" cy="40.6" r="1.8"/><circle cx="311.1" cy="39.4" r="1.8"/><circle cx="310.7" cy="40.7" r="1.8"/><circle cx="310.6" cy="42.8" r="1.8"/><circle cx="311.1" cy="38.4" r="1.8"/><circle cx="310.3" cy="42.9" r="1.8"/><circle cx="310.7" cy="41.4" r="1.8"/><circle cx="310.4" cy="42.3" r="1.8"/><circle cx="312.0" cy="38.5" r="1.8"/><circle cx="312.9" cy="35.9" r="1.8"/><circle cx="315.6" cy="34.9" r="1.8"/><circle cx="310.5" cy="37.3" r="1.8"/><circle cx="312.8" cy="36.4" r="1.8"/><circle cx="313.0" cy="35.6" r="1.8"/><circle cx="314.0" cy="35.0" r="1.8"/><circle cx="315.0" cy="34.6" r="1.8"/><circle cx="314.9" cy="34.9" r="1.8"/><circle cx="328.4" cy="25.2" r="1.8"/><circle cx="329.4" cy="26.6" r="1.8"/><circle cx="323.0" cy="26.6" r="1.8"/><circle cx="323.3" cy="28.7" r="1.8"/><circle cx="329.0" cy="24.7" r="1.8"/><circle cx="323.4" cy="30.3" r="1.8"/></g>
<path d="M393.5,20.5H682.9M393.5,309.7H682.9M393.5,20.5V309.7M682.9,20.5V309.7" fill="none" stroke="#909090" stroke-width="1.2"/>
<line x1="408.3" y1="309.5" x2="408.3" y2="306.5" stroke="#909090" stroke-width="0.8"/>
<line x1="408.3" y1="20.5" x2="408.3" y2="23.5" stroke="#909090" stroke-width="0.8"/>
<line x1="467.3" y1="309.5" x2="467.3" y2="306.5" stroke="#909090" stroke-width="0.8"/>
<line x1="467.3" y1="20.5" x2="467.3" y2="23.5" stroke="#909090" stroke-width="0.8"/>
<line x1="526.3" y1="309.5" x2="526.3" y2="306.5" stroke="#909090" stroke-width="0.8"/>
<line x1="526.3" y1="20.5" x2="526.3" y2="23.5" stroke="#909090" stroke-width="0.8"/>
<line x1="585.3" y1="309.5" x2="585.3" y2="306.5" stroke="#909090" stroke-width="0.8"/>
<line x1="585.3" y1="20.5" x2="585.3" y2="23.5" stroke="#909090" stroke-width="0.8"/>
<line x1="644.3" y1="309.5" x2="644.3" y2="306.5" stroke="#909090" stroke-width="0.8"/>
<line x1="644.3" y1="20.5" x2="644.3" y2="23.5" stroke="#909090" stroke-width="0.8"/>
<line x1="393.5" y1="294.3" x2="396.5" y2="294.3" stroke="#909090" stroke-width="0.8"/>
<line x1="682.5" y1="294.3" x2="679.5" y2="294.3" stroke="#909090" stroke-width="0.8"/>
<line x1="393.5" y1="235.4" x2="396.5" y2="235.4" stroke="#909090" stroke-width="0.8"/>
<line x1="682.5" y1="235.4" x2="679.5" y2="235.4" stroke="#909090" stroke-width="0.8"/>
<line x1="393.5" y1="176.5" x2="396.5" y2="176.5" stroke="#909090" stroke-width="0.8"/>
<line x1="682.5" y1="176.5" x2="679.5" y2="176.5" stroke="#909090" stroke-width="0.8"/>
<line x1="393.5" y1="117.60000000000002" x2="396.5" y2="117.60000000000002" stroke="#909090" stroke-width="0.8"/>
<line x1="682.5" y1="117.60000000000002" x2="679.5" y2="117.60000000000002" stroke="#909090" stroke-width="0.8"/>
<line x1="393.5" y1="58.70000000000002" x2="396.5" y2="58.70000000000002" stroke="#909090" stroke-width="0.8"/>
<line x1="682.5" y1="58.70000000000002" x2="679.5" y2="58.70000000000002" stroke="#909090" stroke-width="0.8"/>
<text transform="translate(408.6,330.2) scale(0.935,1)" text-anchor="middle" class="tk">0</text>
<text transform="translate(467.6,330.2) scale(0.935,1)" text-anchor="middle" class="tk">10</text>
<text transform="translate(526.6,330.2) scale(0.935,1)" text-anchor="middle" class="tk">20</text>
<text transform="translate(585.6,330.2) scale(0.935,1)" text-anchor="middle" class="tk">30</text>
<text transform="translate(644.6,330.2) scale(0.935,1)" text-anchor="middle" class="tk">40</text>
<text transform="translate(388.9,300.8) scale(0.935,1)" text-anchor="end" class="tk">0</text>
<text transform="translate(388.9,241.9) scale(0.935,1)" text-anchor="end" class="tk">10</text>
<text transform="translate(388.9,183.0) scale(0.935,1)" text-anchor="end" class="tk">20</text>
<text transform="translate(388.9,124.1) scale(0.935,1)" text-anchor="end" class="tk">30</text>
<text transform="translate(388.9,65.2) scale(0.935,1)" text-anchor="end" class="tk">40</text>
<g fill="none" stroke="#0000ff" stroke-width="0.9"><circle cx="422.9" cy="290.0" r="1.8"/><circle cx="424.7" cy="274.1" r="1.8"/><circle cx="426.4" cy="291.6" r="1.8"/><circle cx="411.1" cy="287.3" r="1.8"/><circle cx="410.7" cy="296.0" r="1.8"/><circle cx="425.0" cy="277.8" r="1.8"/><circle cx="424.7" cy="274.4" r="1.8"/><circle cx="410.9" cy="295.8" r="1.8"/><circle cx="420.4" cy="275.8" r="1.8"/><circle cx="422.8" cy="286.7" r="1.8"/><circle cx="428.7" cy="260.8" r="1.8"/><circle cx="430.9" cy="278.1" r="1.8"/><circle cx="427.0" cy="286.9" r="1.8"/><circle cx="418.4" cy="297.5" r="1.8"/><circle cx="418.8" cy="290.4" r="1.8"/><circle cx="411.0" cy="290.7" r="1.8"/><circle cx="410.4" cy="292.2" r="1.8"/><circle cx="425.2" cy="273.6" r="1.8"/><circle cx="414.4" cy="287.1" r="1.8"/><circle cx="413.9" cy="280.3" r="1.8"/><circle cx="414.5" cy="293.2" r="1.8"/><circle cx="423.2" cy="292.0" r="1.8"/><circle cx="424.8" cy="282.0" r="1.8"/><circle cx="428.9" cy="282.6" r="1.8"/><circle cx="416.8" cy="298.5" r="1.8"/><circle cx="418.6" cy="287.8" r="1.8"/><circle cx="428.4" cy="272.1" r="1.8"/><circle cx="416.3" cy="289.0" r="1.8"/><circle cx="421.0" cy="279.2" r="1.8"/><circle cx="420.4" cy="294.0" r="1.8"/><circle cx="430.9" cy="267.4" r="1.8"/><circle cx="425.0" cy="288.6" r="1.8"/><circle cx="424.9" cy="281.9" r="1.8"/><circle cx="431.1" cy="266.1" r="1.8"/><circle cx="414.3" cy="287.2" r="1.8"/><circle cx="420.4" cy="293.6" r="1.8"/><circle cx="418.4" cy="288.8" r="1.8"/><circle cx="420.7" cy="293.1" r="1.8"/><circle cx="416.4" cy="296.6" r="1.8"/><circle cx="410.4" cy="294.9" r="1.8"/><circle cx="410.6" cy="291.1" r="1.8"/><circle cx="426.3" cy="275.7" r="1.8"/><circle cx="425.1" cy="293.3" r="1.8"/><circle cx="426.5" cy="273.0" r="1.8"/><circle cx="418.5" cy="282.1" r="1.8"/><circle cx="412.5" cy="282.8" r="1.8"/><circle cx="422.9" cy="291.7" r="1.8"/><circle cx="425.2" cy="282.8" r="1.8"/><circle cx="426.8" cy="293.2" r="1.8"/><circle cx="424.8" cy="288.1" r="1.8"/><circle cx="418.3" cy="278.4" r="1.8"/><circle cx="410.5" cy="294.9" r="1.8"/><circle cx="431.2" cy="280.1" r="1.8"/><circle cx="424.3" cy="278.8" r="1.8"/><circle cx="429.1" cy="285.9" r="1.8"/><circle cx="414.5" cy="285.7" r="1.8"/><circle cx="416.5" cy="299.9" r="1.8"/><circle cx="418.1" cy="290.4" r="1.8"/><circle cx="429.2" cy="279.5" r="1.8"/><circle cx="423.0" cy="281.2" r="1.8"/><circle cx="414.5" cy="299.1" r="1.8"/><circle cx="410.4" cy="291.7" r="1.8"/><circle cx="418.5" cy="277.0" r="1.8"/><circle cx="431.1" cy="279.5" r="1.8"/><circle cx="414.1" cy="292.4" r="1.8"/><circle cx="414.4" cy="279.3" r="1.8"/><circle cx="414.2" cy="290.5" r="1.8"/><circle cx="423.2" cy="270.6" r="1.8"/><circle cx="414.2" cy="291.0" r="1.8"/><circle cx="412.8" cy="285.2" r="1.8"/><circle cx="425.0" cy="288.7" r="1.8"/><circle cx="412.2" cy="290.8" r="1.8"/><circle cx="412.2" cy="288.5" r="1.8"/><circle cx="416.5" cy="278.4" r="1.8"/><circle cx="412.9" cy="290.7" r="1.8"/><circle cx="426.7" cy="271.8" r="1.8"/><circle cx="420.4" cy="282.3" r="1.8"/><circle cx="420.4" cy="278.3" r="1.8"/><circle cx="428.3" cy="266.6" r="1.8"/><circle cx="420.6" cy="278.1" r="1.8"/><circle cx="431.3" cy="265.3" r="1.8"/><circle cx="416.7" cy="283.6" r="1.8"/><circle cx="413.1" cy="288.4" r="1.8"/><circle cx="430.5" cy="279.4" r="1.8"/><circle cx="426.3" cy="277.2" r="1.8"/><circle cx="431.1" cy="284.2" r="1.8"/><circle cx="430.8" cy="283.1" r="1.8"/><circle cx="420.4" cy="274.9" r="1.8"/><circle cx="430.5" cy="272.4" r="1.8"/><circle cx="430.7" cy="274.2" r="1.8"/><circle cx="412.6" cy="284.8" r="1.8"/><circle cx="418.2" cy="293.1" r="1.8"/><circle cx="416.7" cy="289.7" r="1.8"/><circle cx="421.0" cy="285.2" r="1.8"/><circle cx="418.8" cy="283.8" r="1.8"/><circle cx="430.7" cy="275.6" r="1.8"/><circle cx="412.1" cy="300.2" r="1.8"/><circle cx="422.4" cy="275.1" r="1.8"/><circle cx="427.0" cy="270.7" r="1.8"/><circle cx="429.2" cy="273.1" r="1.8"/><circle cx="422.3" cy="271.8" r="1.8"/><circle cx="414.5" cy="278.3" r="1.8"/><circle cx="414.2" cy="278.6" r="1.8"/><circle cx="423.0" cy="271.2" r="1.8"/><circle cx="420.9" cy="295.7" r="1.8"/><circle cx="418.9" cy="276.2" r="1.8"/><circle cx="422.6" cy="295.2" r="1.8"/><circle cx="419.1" cy="281.5" r="1.8"/><circle cx="411.1" cy="297.9" r="1.8"/><circle cx="424.5" cy="272.1" r="1.8"/><circle cx="412.1" cy="287.8" r="1.8"/><circle cx="420.2" cy="278.4" r="1.8"/><circle cx="421.1" cy="292.1" r="1.8"/><circle cx="416.2" cy="281.5" r="1.8"/><circle cx="412.3" cy="290.4" r="1.8"/><circle cx="428.3" cy="271.9" r="1.8"/><circle cx="428.9" cy="261.7" r="1.8"/><circle cx="416.2" cy="286.0" r="1.8"/><circle cx="424.8" cy="289.0" r="1.8"/><circle cx="416.4" cy="293.3" r="1.8"/><circle cx="428.8" cy="262.7" r="1.8"/><circle cx="426.8" cy="287.8" r="1.8"/><circle cx="424.9" cy="289.4" r="1.8"/><circle cx="422.4" cy="274.1" r="1.8"/><circle cx="424.9" cy="287.7" r="1.8"/><circle cx="428.4" cy="276.2" r="1.8"/><circle cx="422.5" cy="289.6" r="1.8"/><circle cx="428.4" cy="271.4" r="1.8"/><circle cx="416.3" cy="292.2" r="1.8"/><circle cx="412.6" cy="290.1" r="1.8"/><circle cx="427.1" cy="276.9" r="1.8"/><circle cx="424.9" cy="280.7" r="1.8"/><circle cx="422.6" cy="274.8" r="1.8"/><circle cx="426.9" cy="291.5" r="1.8"/><circle cx="420.3" cy="281.9" r="1.8"/><circle cx="421.0" cy="280.3" r="1.8"/><circle cx="411.0" cy="298.2" r="1.8"/><circle cx="414.3" cy="278.4" r="1.8"/><circle cx="419.0" cy="277.5" r="1.8"/><circle cx="418.2" cy="282.8" r="1.8"/><circle cx="410.6" cy="297.4" r="1.8"/><circle cx="429.0" cy="287.2" r="1.8"/><circle cx="413.0" cy="290.9" r="1.8"/><circle cx="425.3" cy="285.4" r="1.8"/><circle cx="414.5" cy="295.6" r="1.8"/><circle cx="419.1" cy="291.2" r="1.8"/><circle cx="416.6" cy="293.4" r="1.8"/><circle cx="414.3" cy="295.7" r="1.8"/><circle cx="421.0" cy="289.7" r="1.8"/><circle cx="416.2" cy="295.9" r="1.8"/><circle cx="427.0" cy="263.3" r="1.8"/><circle cx="416.3" cy="281.9" r="1.8"/><circle cx="414.4" cy="293.0" r="1.8"/><circle cx="416.8" cy="293.1" r="1.8"/><circle cx="425.1" cy="280.6" r="1.8"/><circle cx="428.6" cy="268.0" r="1.8"/><circle cx="412.7" cy="282.9" r="1.8"/><circle cx="420.5" cy="276.5" r="1.8"/><circle cx="412.1" cy="299.1" r="1.8"/><circle cx="418.7" cy="290.6" r="1.8"/><circle cx="426.4" cy="272.3" r="1.8"/><circle cx="425.0" cy="279.8" r="1.8"/><circle cx="427.2" cy="269.1" r="1.8"/><circle cx="416.8" cy="295.9" r="1.8"/><circle cx="422.4" cy="275.0" r="1.8"/><circle cx="416.8" cy="299.5" r="1.8"/><circle cx="424.9" cy="277.1" r="1.8"/><circle cx="430.4" cy="277.6" r="1.8"/><circle cx="430.6" cy="286.8" r="1.8"/><circle cx="420.9" cy="276.3" r="1.8"/><circle cx="420.6" cy="296.2" r="1.8"/><circle cx="429.2" cy="264.4" r="1.8"/><circle cx="410.4" cy="296.5" r="1.8"/><circle cx="422.8" cy="289.7" r="1.8"/><circle cx="423.3" cy="279.5" r="1.8"/><circle cx="416.0" cy="297.9" r="1.8"/><circle cx="412.8" cy="282.2" r="1.8"/><circle cx="416.6" cy="280.0" r="1.8"/><circle cx="422.3" cy="291.9" r="1.8"/><circle cx="410.3" cy="291.7" r="1.8"/><circle cx="410.6" cy="294.8" r="1.8"/><circle cx="416.2" cy="298.4" r="1.8"/><circle cx="427.2" cy="288.4" r="1.8"/><circle cx="428.7" cy="267.5" r="1.8"/><circle cx="412.6" cy="297.0" r="1.8"/><circle cx="426.9" cy="267.5" r="1.8"/><circle cx="424.7" cy="287.8" r="1.8"/><circle cx="412.8" cy="284.3" r="1.8"/><circle cx="416.3" cy="280.3" r="1.8"/><circle cx="428.6" cy="262.6" r="1.8"/><circle cx="416.6" cy="290.4" r="1.8"/><circle cx="424.5" cy="282.4" r="1.8"/><circle cx="421.0" cy="280.5" r="1.8"/><circle cx="428.4" cy="266.1" r="1.8"/><circle cx="430.6" cy="281.7" r="1.8"/><circle cx="414.8" cy="289.9" r="1.8"/><circle cx="414.6" cy="280.1" r="1.8"/><circle cx="418.9" cy="278.1" r="1.8"/><circle cx="422.9" cy="280.8" r="1.8"/><circle cx="418.4" cy="286.3" r="1.8"/><circle cx="428.5" cy="264.8" r="1.8"/><circle cx="416.1" cy="287.5" r="1.8"/><circle cx="423.0" cy="270.3" r="1.8"/><circle cx="418.4" cy="290.9" r="1.8"/><circle cx="419.0" cy="295.5" r="1.8"/><circle cx="416.7" cy="281.2" r="1.8"/><circle cx="423.0" cy="280.8" r="1.8"/><circle cx="427.3" cy="266.3" r="1.8"/><circle cx="424.5" cy="280.3" r="1.8"/><circle cx="412.9" cy="285.4" r="1.8"/><circle cx="429.2" cy="262.6" r="1.8"/><circle cx="431.2" cy="263.6" r="1.8"/><circle cx="423.2" cy="282.8" r="1.8"/><circle cx="412.4" cy="282.3" r="1.8"/><circle cx="425.1" cy="264.7" r="1.8"/><circle cx="416.9" cy="286.7" r="1.8"/><circle cx="420.2" cy="281.2" r="1.8"/><circle cx="429.2" cy="281.9" r="1.8"/><circle cx="414.3" cy="288.3" r="1.8"/><circle cx="418.9" cy="287.5" r="1.8"/><circle cx="428.9" cy="273.1" r="1.8"/><circle cx="422.9" cy="276.9" r="1.8"/><circle cx="420.9" cy="286.7" r="1.8"/><circle cx="424.4" cy="268.6" r="1.8"/><circle cx="416.7" cy="288.2" r="1.8"/><circle cx="422.5" cy="290.5" r="1.8"/><circle cx="414.0" cy="282.7" r="1.8"/><circle cx="424.4" cy="276.6" r="1.8"/><circle cx="428.4" cy="266.0" r="1.8"/><circle cx="418.7" cy="297.6" r="1.8"/><circle cx="421.0" cy="273.9" r="1.8"/><circle cx="423.0" cy="288.7" r="1.8"/><circle cx="416.1" cy="279.3" r="1.8"/><circle cx="425.1" cy="287.6" r="1.8"/><circle cx="418.9" cy="279.2" r="1.8"/><circle cx="414.9" cy="294.4" r="1.8"/><circle cx="427.2" cy="264.5" r="1.8"/><circle cx="426.7" cy="288.0" r="1.8"/><circle cx="414.7" cy="278.8" r="1.8"/><circle cx="425.1" cy="279.1" r="1.8"/><circle cx="420.4" cy="296.7" r="1.8"/><circle cx="421.0" cy="282.4" r="1.8"/><circle cx="418.4" cy="281.2" r="1.8"/><circle cx="428.7" cy="280.0" r="1.8"/><circle cx="414.3" cy="284.2" r="1.8"/><circle cx="428.9" cy="272.2" r="1.8"/><circle cx="429.0" cy="282.1" r="1.8"/><circle cx="422.9" cy="281.5" r="1.8"/><circle cx="424.4" cy="285.1" r="1.8"/><circle cx="412.1" cy="284.9" r="1.8"/><circle cx="414.6" cy="296.5" r="1.8"/><circle cx="428.3" cy="258.7" r="1.8"/><circle cx="424.4" cy="266.2" r="1.8"/><circle cx="416.3" cy="287.4" r="1.8"/><circle cx="416.6" cy="292.4" r="1.8"/><circle cx="430.6" cy="278.9" r="1.8"/><circle cx="416.6" cy="285.5" r="1.8"/><circle cx="427.2" cy="291.2" r="1.8"/><circle cx="427.2" cy="288.9" r="1.8"/><circle cx="428.6" cy="278.7" r="1.8"/><circle cx="426.8" cy="276.9" r="1.8"/><circle cx="427.0" cy="269.0" r="1.8"/><circle cx="424.8" cy="275.1" r="1.8"/><circle cx="414.5" cy="297.3" r="1.8"/><circle cx="428.9" cy="282.3" r="1.8"/><circle cx="431.2" cy="274.6" r="1.8"/><circle cx="426.5" cy="275.1" r="1.8"/><circle cx="430.8" cy="282.5" r="1.8"/><circle cx="430.5" cy="269.6" r="1.8"/><circle cx="416.8" cy="287.9" r="1.8"/><circle cx="426.4" cy="283.4" r="1.8"/><circle cx="428.9" cy="273.8" r="1.8"/><circle cx="430.9" cy="268.4" r="1.8"/><circle cx="420.6" cy="295.3" r="1.8"/><circle cx="416.2" cy="284.4" r="1.8"/><circle cx="430.8" cy="267.1" r="1.8"/><circle cx="422.8" cy="286.6" r="1.8"/><circle cx="423.2" cy="271.4" r="1.8"/><circle cx="427.1" cy="264.9" r="1.8"/><circle cx="431.2" cy="281.1" r="1.8"/><circle cx="430.8" cy="274.9" r="1.8"/><circle cx="426.6" cy="283.2" r="1.8"/><circle cx="424.3" cy="276.4" r="1.8"/><circle cx="420.4" cy="284.7" r="1.8"/><circle cx="429.1" cy="280.0" r="1.8"/><circle cx="412.2" cy="289.8" r="1.8"/><circle cx="422.7" cy="296.2" r="1.8"/><circle cx="427.0" cy="270.7" r="1.8"/><circle cx="429.0" cy="264.1" r="1.8"/><circle cx="425.0" cy="295.6" r="1.8"/><circle cx="419.1" cy="277.0" r="1.8"/><circle cx="418.3" cy="297.1" r="1.8"/><circle cx="429.2" cy="284.3" r="1.8"/><circle cx="416.1" cy="293.4" r="1.8"/><circle cx="414.7" cy="288.9" r="1.8"/><circle cx="410.9" cy="288.5" r="1.8"/><circle cx="426.7" cy="262.2" r="1.8"/><circle cx="426.7" cy="285.4" r="1.8"/><circle cx="422.9" cy="295.2" r="1.8"/><circle cx="420.8" cy="280.7" r="1.8"/><circle cx="412.0" cy="305.8" r="1.8"/><circle cx="414.3" cy="308.8" r="1.8"/><circle cx="419.3" cy="305.6" r="1.8"/><circle cx="413.7" cy="306.9" r="1.8"/><circle cx="414.2" cy="262.3" r="1.8"/><circle cx="414.2" cy="266.7" r="1.8"/><circle cx="414.2" cy="271.0" r="1.8"/><circle cx="414.2" cy="274.9" r="1.8"/><circle cx="418.6" cy="261.9" r="1.8"/><circle cx="418.6" cy="263.8" r="1.8"/><circle cx="420.0" cy="272.5" r="1.8"/><circle cx="428.2" cy="254.7" r="1.8"/><circle cx="426.9" cy="258.8" r="1.8"/><circle cx="411.5" cy="301.9" r="1.8"/><circle cx="408.9" cy="296.3" r="1.8"/><circle cx="412.5" cy="281.0" r="1.8"/><circle cx="423.5" cy="297.0" r="1.8"/><circle cx="427.5" cy="293.0" r="1.8"/><circle cx="429.6" cy="288.8" r="1.8"/><circle cx="416.0" cy="302.5" r="1.8"/><circle cx="421.0" cy="301.0" r="1.8"/><circle cx="436.1" cy="255.8" r="1.8"/><circle cx="435.8" cy="251.8" r="1.8"/><circle cx="435.5" cy="261.8" r="1.8"/><circle cx="435.2" cy="263.4" r="1.8"/><circle cx="436.9" cy="251.0" r="1.8"/><circle cx="435.6" cy="262.5" r="1.8"/><circle cx="436.1" cy="250.3" r="1.8"/><circle cx="436.4" cy="264.6" r="1.8"/><circle cx="437.1" cy="256.8" r="1.8"/><circle cx="436.4" cy="260.6" r="1.8"/><circle cx="435.9" cy="246.8" r="1.8"/><circle cx="436.3" cy="248.2" r="1.8"/><circle cx="435.8" cy="252.2" r="1.8"/><circle cx="436.4" cy="246.9" r="1.8"/><circle cx="435.7" cy="246.2" r="1.8"/><circle cx="437.1" cy="265.7" r="1.8"/><circle cx="436.8" cy="246.4" r="1.8"/><circle cx="435.5" cy="261.2" r="1.8"/><circle cx="436.2" cy="260.2" r="1.8"/><circle cx="436.0" cy="264.4" r="1.8"/><circle cx="435.9" cy="257.8" r="1.8"/><circle cx="436.4" cy="251.4" r="1.8"/><circle cx="435.8" cy="265.2" r="1.8"/><circle cx="437.2" cy="263.1" r="1.8"/><circle cx="435.5" cy="244.3" r="1.8"/><circle cx="437.5" cy="237.4" r="1.8"/><circle cx="435.4" cy="272.9" r="1.8"/><circle cx="436.0" cy="262.0" r="1.8"/><circle cx="446.3" cy="243.6" r="1.8"/><circle cx="444.3" cy="243.5" r="1.8"/><circle cx="444.2" cy="241.2" r="1.8"/><circle cx="445.0" cy="254.9" r="1.8"/><circle cx="446.3" cy="225.6" r="1.8"/><circle cx="446.0" cy="243.9" r="1.8"/><circle cx="445.3" cy="238.8" r="1.8"/><circle cx="446.2" cy="249.6" r="1.8"/><circle cx="443.9" cy="235.4" r="1.8"/><circle cx="444.2" cy="231.3" r="1.8"/><circle cx="444.1" cy="246.1" r="1.8"/><circle cx="444.6" cy="232.2" r="1.8"/><circle cx="444.4" cy="251.9" r="1.8"/><circle cx="443.9" cy="252.7" r="1.8"/><circle cx="445.3" cy="239.8" r="1.8"/><circle cx="443.9" cy="256.9" r="1.8"/><circle cx="446.1" cy="244.5" r="1.8"/><circle cx="445.1" cy="244.2" r="1.8"/><circle cx="444.7" cy="224.9" r="1.8"/><circle cx="444.0" cy="235.1" r="1.8"/><circle cx="443.7" cy="249.0" r="1.8"/><circle cx="445.2" cy="251.7" r="1.8"/><circle cx="446.2" cy="243.3" r="1.8"/><circle cx="445.5" cy="231.2" r="1.8"/><circle cx="443.7" cy="248.2" r="1.8"/><circle cx="446.2" cy="231.1" r="1.8"/><circle cx="446.1" cy="237.9" r="1.8"/><circle cx="445.3" cy="253.1" r="1.8"/><circle cx="446.3" cy="250.9" r="1.8"/><circle cx="446.0" cy="247.0" r="1.8"/><circle cx="446.1" cy="250.9" r="1.8"/><circle cx="444.2" cy="243.0" r="1.8"/><circle cx="443.6" cy="230.7" r="1.8"/><circle cx="446.4" cy="229.9" r="1.8"/><circle cx="444.7" cy="230.7" r="1.8"/><circle cx="444.1" cy="237.6" r="1.8"/><circle cx="443.7" cy="248.5" r="1.8"/><circle cx="444.1" cy="228.9" r="1.8"/><circle cx="444.9" cy="239.6" r="1.8"/><circle cx="444.7" cy="256.0" r="1.8"/><circle cx="446.4" cy="252.1" r="1.8"/><circle cx="445.2" cy="228.3" r="1.8"/><circle cx="444.9" cy="222.0" r="1.8"/><circle cx="446.5" cy="226.0" r="1.8"/><circle cx="443.9" cy="263.4" r="1.8"/><circle cx="450.2" cy="262.7" r="1.8"/><circle cx="450.2" cy="266.1" r="1.8"/><circle cx="458.5" cy="244.7" r="1.8"/><circle cx="459.2" cy="242.0" r="1.8"/><circle cx="459.0" cy="243.6" r="1.8"/><circle cx="459.4" cy="235.1" r="1.8"/><circle cx="457.7" cy="238.3" r="1.8"/><circle cx="459.9" cy="246.5" r="1.8"/><circle cx="459.2" cy="247.5" r="1.8"/><circle cx="459.8" cy="246.7" r="1.8"/><circle cx="459.6" cy="248.0" r="1.8"/><circle cx="458.5" cy="236.8" r="1.8"/><circle cx="459.6" cy="243.7" r="1.8"/><circle cx="459.3" cy="236.8" r="1.8"/><circle cx="460.1" cy="243.9" r="1.8"/><circle cx="459.0" cy="242.2" r="1.8"/><circle cx="458.4" cy="239.3" r="1.8"/><circle cx="460.9" cy="235.0" r="1.8"/><circle cx="459.1" cy="243.2" r="1.8"/><circle cx="459.2" cy="240.5" r="1.8"/><circle cx="457.7" cy="246.5" r="1.8"/><circle cx="457.5" cy="238.9" r="1.8"/><circle cx="458.8" cy="235.5" r="1.8"/><circle cx="460.6" cy="247.0" r="1.8"/><circle cx="450.5" cy="248.8" r="1.8"/><circle cx="450.6" cy="250.3" r="1.8"/><circle cx="450.8" cy="252.0" r="1.8"/><circle cx="450.7" cy="248.8" r="1.8"/><circle cx="452.2" cy="255.2" r="1.8"/><circle cx="450.6" cy="251.1" r="1.8"/><circle cx="457.5" cy="230.5" r="1.8"/><circle cx="461.0" cy="231.0" r="1.8"/><circle cx="457.0" cy="252.8" r="1.8"/><circle cx="455.5" cy="249.0" r="1.8"/><circle cx="477.9" cy="215.9" r="1.8"/><circle cx="478.3" cy="220.4" r="1.8"/><circle cx="478.4" cy="222.0" r="1.8"/><circle cx="478.0" cy="219.5" r="1.8"/><circle cx="477.6" cy="226.0" r="1.8"/><circle cx="477.7" cy="226.6" r="1.8"/><circle cx="478.1" cy="227.8" r="1.8"/><circle cx="477.8" cy="220.1" r="1.8"/><circle cx="478.1" cy="222.4" r="1.8"/><circle cx="478.3" cy="221.0" r="1.8"/><circle cx="477.8" cy="213.5" r="1.8"/><circle cx="484.4" cy="210.4" r="1.8"/><circle cx="480.7" cy="235.4" r="1.8"/><circle cx="479.2" cy="240.5" r="1.8"/><circle cx="482.8" cy="235.4" r="1.8"/><circle cx="480.8" cy="237.9" r="1.8"/><circle cx="477.8" cy="231.0" r="1.8"/><circle cx="498.7" cy="205.9" r="1.8"/><circle cx="499.4" cy="195.8" r="1.8"/><circle cx="497.4" cy="207.5" r="1.8"/><circle cx="497.7" cy="208.3" r="1.8"/><circle cx="498.4" cy="212.6" r="1.8"/><circle cx="498.9" cy="198.4" r="1.8"/><circle cx="497.7" cy="192.0" r="1.8"/><circle cx="497.5" cy="201.1" r="1.8"/><circle cx="499.1" cy="213.8" r="1.8"/><circle cx="499.1" cy="203.2" r="1.8"/><circle cx="498.8" cy="204.4" r="1.8"/><circle cx="497.4" cy="204.5" r="1.8"/><circle cx="497.5" cy="194.7" r="1.8"/><circle cx="499.5" cy="198.0" r="1.8"/><circle cx="499.0" cy="198.4" r="1.8"/><circle cx="497.8" cy="200.9" r="1.8"/><circle cx="498.7" cy="212.2" r="1.8"/><circle cx="498.7" cy="194.4" r="1.8"/><circle cx="497.3" cy="202.9" r="1.8"/><circle cx="497.5" cy="198.6" r="1.8"/><circle cx="497.7" cy="185.3" r="1.8"/><circle cx="501.7" cy="185.3" r="1.8"/><circle cx="504.8" cy="177.1" r="1.8"/><circle cx="504.8" cy="189.4" r="1.8"/><circle cx="500.4" cy="190.9" r="1.8"/><circle cx="497.6" cy="188.9" r="1.8"/><circle cx="499.0" cy="216.0" r="1.8"/><circle cx="529.4" cy="160.9" r="1.8"/><circle cx="528.9" cy="167.4" r="1.8"/><circle cx="535.4" cy="164.9" r="1.8"/><circle cx="538.4" cy="164.4" r="1.8"/><circle cx="529.4" cy="179.3" r="1.8"/><circle cx="532.0" cy="166.5" r="1.8"/><circle cx="528.5" cy="171.0" r="1.8"/><circle cx="529.0" cy="176.0" r="1.8"/><circle cx="548.4" cy="136.9" r="1.8"/><circle cx="548.4" cy="138.9" r="1.8"/><circle cx="549.0" cy="144.9" r="1.8"/><circle cx="548.5" cy="147.0" r="1.8"/><circle cx="554.9" cy="153.8" r="1.8"/><circle cx="558.9" cy="152.3" r="1.8"/><circle cx="549.0" cy="166.3" r="1.8"/><circle cx="549.0" cy="163.0" r="1.8"/><circle cx="548.2" cy="160.5" r="1.8"/><circle cx="550.0" cy="162.0" r="1.8"/><circle cx="548.0" cy="150.0" r="1.8"/><circle cx="607.4" cy="87.4" r="1.8"/><circle cx="610.2" cy="86.8" r="1.8"/><circle cx="608.0" cy="107.3" r="1.8"/><circle cx="608.5" cy="110.1" r="1.8"/><circle cx="611.4" cy="113.0" r="1.8"/><circle cx="608.5" cy="116.9" r="1.8"/><circle cx="612.5" cy="116.4" r="1.8"/><circle cx="610.8" cy="104.4" r="1.8"/><circle cx="614.8" cy="83.4" r="1.8"/><circle cx="617.6" cy="98.2" r="1.8"/><circle cx="608.4" cy="49.0" r="1.8"/><circle cx="608.4" cy="60.9" r="1.8"/><circle cx="609.9" cy="77.8" r="1.8"/><circle cx="613.4" cy="77.8" r="1.8"/><circle cx="622.8" cy="72.3" r="1.8"/><circle cx="622.8" cy="77.3" r="1.8"/><circle cx="607.7" cy="103.5" r="1.8"/><circle cx="608.0" cy="99.2" r="1.8"/><circle cx="607.6" cy="102.0" r="1.8"/><circle cx="607.4" cy="99.6" r="1.8"/><circle cx="608.1" cy="103.3" r="1.8"/><circle cx="607.8" cy="103.4" r="1.8"/><circle cx="608.9" cy="104.1" r="1.8"/><circle cx="609.8" cy="105.7" r="1.8"/><circle cx="608.1" cy="102.9" r="1.8"/><circle cx="609.6" cy="104.6" r="1.8"/><circle cx="609.2" cy="105.1" r="1.8"/><circle cx="608.5" cy="101.5" r="1.8"/><circle cx="664.2" cy="53.1" r="1.8"/><circle cx="663.4" cy="57.6" r="1.8"/><circle cx="663.6" cy="56.6" r="1.8"/><circle cx="661.9" cy="51.8" r="1.8"/><circle cx="663.9" cy="53.9" r="1.8"/><circle cx="663.6" cy="45.9" r="1.8"/><circle cx="662.0" cy="46.1" r="1.8"/><circle cx="662.4" cy="54.6" r="1.8"/><circle cx="663.5" cy="46.0" r="1.8"/><circle cx="664.0" cy="56.0" r="1.8"/><circle cx="663.9" cy="52.7" r="1.8"/><circle cx="663.2" cy="46.6" r="1.8"/><circle cx="662.7" cy="54.5" r="1.8"/><circle cx="664.2" cy="56.0" r="1.8"/><circle cx="662.2" cy="57.0" r="1.8"/><circle cx="664.0" cy="46.9" r="1.8"/><circle cx="664.0" cy="58.2" r="1.8"/><circle cx="663.7" cy="44.3" r="1.8"/><circle cx="663.9" cy="58.6" r="1.8"/><circle cx="662.1" cy="58.5" r="1.8"/><circle cx="663.8" cy="47.1" r="1.8"/><circle cx="662.3" cy="50.5" r="1.8"/><circle cx="663.3" cy="55.3" r="1.8"/><circle cx="663.0" cy="50.9" r="1.8"/><circle cx="662.5" cy="45.3" r="1.8"/><circle cx="662.8" cy="46.6" r="1.8"/><circle cx="661.9" cy="35.1" r="1.8"/><circle cx="663.3" cy="37.8" r="1.8"/><circle cx="663.3" cy="36.8" r="1.8"/><circle cx="661.8" cy="36.5" r="1.8"/><circle cx="663.0" cy="34.6" r="1.8"/><circle cx="664.2" cy="35.0" r="1.8"/><circle cx="663.0" cy="33.5" r="1.8"/><circle cx="664.5" cy="35.0" r="1.8"/><circle cx="662.8" cy="61.4" r="1.8"/><circle cx="668.9" cy="46.6" r="1.8"/><circle cx="671.1" cy="55.1" r="1.8"/><circle cx="674.5" cy="58.5" r="1.8"/><circle cx="680.2" cy="58.0" r="1.8"/><circle cx="681.4" cy="48.9" r="1.8"/><circle cx="680.8" cy="36.4" r="1.8"/><circle cx="674.5" cy="20.4" r="1.8"/></g>
<line x1="393.5" y1="309.1" x2="681.5" y2="22.4" stroke="#8a8a8a" stroke-width="0.8" stroke-dasharray="0.9 1.1"/>
<line x1="393.7" y1="309.2" x2="682.3" y2="25.0" stroke="#14e614" stroke-width="2.2"/>
<g fill="none" stroke="#ff0000" stroke-width="0.9"><circle cx="420.2" cy="284.0" r="1.8"/><circle cx="409.8" cy="293.1" r="1.8"/><circle cx="411.8" cy="290.9" r="1.8"/><circle cx="418.2" cy="284.6" r="1.8"/><circle cx="429.9" cy="274.9" r="1.8"/><circle cx="414.1" cy="288.5" r="1.8"/><circle cx="409.6" cy="293.3" r="1.8"/><circle cx="426.4" cy="278.1" r="1.8"/><circle cx="423.6" cy="280.2" r="1.8"/><circle cx="424.2" cy="279.2" r="1.8"/><circle cx="428.7" cy="275.3" r="1.8"/><circle cx="425.4" cy="278.7" r="1.8"/><circle cx="409.5" cy="292.6" r="1.8"/><circle cx="420.3" cy="283.1" r="1.8"/><circle cx="425.8" cy="278.4" r="1.8"/><circle cx="421.9" cy="281.7" r="1.8"/><circle cx="411.8" cy="290.5" r="1.8"/><circle cx="426.2" cy="277.7" r="1.8"/><circle cx="427.9" cy="275.3" r="1.8"/><circle cx="430.6" cy="273.8" r="1.8"/><circle cx="415.1" cy="288.2" r="1.8"/><circle cx="424.6" cy="279.6" r="1.8"/><circle cx="417.2" cy="286.4" r="1.8"/><circle cx="411.9" cy="290.4" r="1.8"/><circle cx="427.8" cy="276.7" r="1.8"/><circle cx="426.0" cy="278.2" r="1.8"/><circle cx="430.9" cy="273.2" r="1.8"/><circle cx="419.2" cy="284.1" r="1.8"/><circle cx="427.2" cy="276.9" r="1.8"/><circle cx="411.8" cy="290.3" r="1.8"/><circle cx="418.7" cy="284.3" r="1.8"/><circle cx="430.1" cy="274.9" r="1.8"/><circle cx="425.8" cy="277.3" r="1.8"/><circle cx="421.4" cy="281.9" r="1.8"/><circle cx="427.9" cy="276.2" r="1.8"/><circle cx="422.5" cy="281.3" r="1.8"/><circle cx="410.3" cy="292.0" r="1.8"/><circle cx="415.0" cy="287.9" r="1.8"/><circle cx="415.6" cy="287.2" r="1.8"/><circle cx="413.6" cy="289.2" r="1.8"/><circle cx="424.9" cy="278.9" r="1.8"/><circle cx="427.3" cy="276.6" r="1.8"/><circle cx="417.8" cy="285.4" r="1.8"/><circle cx="423.8" cy="280.2" r="1.8"/><circle cx="414.7" cy="287.5" r="1.8"/><circle cx="419.8" cy="283.6" r="1.8"/><circle cx="427.1" cy="277.4" r="1.8"/><circle cx="415.7" cy="287.3" r="1.8"/><circle cx="421.7" cy="282.0" r="1.8"/><circle cx="421.0" cy="282.3" r="1.8"/><circle cx="415.0" cy="287.4" r="1.8"/><circle cx="429.9" cy="273.9" r="1.8"/><circle cx="413.3" cy="289.2" r="1.8"/><circle cx="412.8" cy="289.3" r="1.8"/><circle cx="410.8" cy="291.8" r="1.8"/><circle cx="414.7" cy="288.0" r="1.8"/><circle cx="415.7" cy="287.5" r="1.8"/><circle cx="421.8" cy="281.5" r="1.8"/><circle cx="413.3" cy="289.5" r="1.8"/><circle cx="425.3" cy="278.2" r="1.8"/><circle cx="429.4" cy="274.5" r="1.8"/><circle cx="416.3" cy="287.4" r="1.8"/><circle cx="423.3" cy="280.6" r="1.8"/><circle cx="412.2" cy="290.9" r="1.8"/><circle cx="418.6" cy="284.6" r="1.8"/><circle cx="425.6" cy="278.2" r="1.8"/><circle cx="428.8" cy="275.2" r="1.8"/><circle cx="425.0" cy="278.9" r="1.8"/><circle cx="409.7" cy="292.5" r="1.8"/><circle cx="417.3" cy="285.7" r="1.8"/><circle cx="424.0" cy="279.6" r="1.8"/><circle cx="419.8" cy="283.3" r="1.8"/><circle cx="424.4" cy="279.4" r="1.8"/><circle cx="429.2" cy="275.1" r="1.8"/><circle cx="424.1" cy="280.0" r="1.8"/><circle cx="423.5" cy="280.2" r="1.8"/><circle cx="425.5" cy="278.1" r="1.8"/><circle cx="417.5" cy="286.1" r="1.8"/><circle cx="427.1" cy="276.0" r="1.8"/><circle cx="423.2" cy="280.3" r="1.8"/><circle cx="411.3" cy="290.9" r="1.8"/><circle cx="410.8" cy="291.6" r="1.8"/><circle cx="423.0" cy="280.5" r="1.8"/><circle cx="425.3" cy="278.2" r="1.8"/><circle cx="423.2" cy="280.3" r="1.8"/><circle cx="428.9" cy="273.6" r="1.8"/><circle cx="414.6" cy="287.7" r="1.8"/><circle cx="413.1" cy="289.8" r="1.8"/><circle cx="428.2" cy="275.8" r="1.8"/><circle cx="418.7" cy="283.9" r="1.8"/><circle cx="421.8" cy="281.3" r="1.8"/><circle cx="408.9" cy="292.3" r="1.8"/><circle cx="428.5" cy="275.8" r="1.8"/><circle cx="425.5" cy="278.1" r="1.8"/><circle cx="419.6" cy="284.2" r="1.8"/><circle cx="414.9" cy="287.4" r="1.8"/><circle cx="421.7" cy="281.9" r="1.8"/><circle cx="424.3" cy="279.1" r="1.8"/><circle cx="429.5" cy="274.6" r="1.8"/><circle cx="415.7" cy="288.1" r="1.8"/><circle cx="410.9" cy="290.7" r="1.8"/><circle cx="414.6" cy="288.7" r="1.8"/><circle cx="411.8" cy="291.0" r="1.8"/><circle cx="413.4" cy="291.0" r="1.8"/><circle cx="422.2" cy="281.3" r="1.8"/><circle cx="419.1" cy="284.5" r="1.8"/><circle cx="426.2" cy="277.7" r="1.8"/><circle cx="415.3" cy="288.0" r="1.8"/><circle cx="414.0" cy="288.3" r="1.8"/><circle cx="428.3" cy="275.6" r="1.8"/><circle cx="419.5" cy="282.6" r="1.8"/><circle cx="418.5" cy="284.5" r="1.8"/><circle cx="428.0" cy="275.7" r="1.8"/><circle cx="426.4" cy="277.2" r="1.8"/><circle cx="413.9" cy="289.4" r="1.8"/><circle cx="425.2" cy="278.0" r="1.8"/><circle cx="421.2" cy="282.8" r="1.8"/><circle cx="427.8" cy="276.5" r="1.8"/><circle cx="420.8" cy="282.4" r="1.8"/><circle cx="412.6" cy="289.5" r="1.8"/><circle cx="425.7" cy="277.4" r="1.8"/><circle cx="415.5" cy="287.6" r="1.8"/><circle cx="423.1" cy="280.6" r="1.8"/><circle cx="424.6" cy="278.0" r="1.8"/><circle cx="428.9" cy="275.1" r="1.8"/><circle cx="416.6" cy="286.6" r="1.8"/><circle cx="411.6" cy="290.8" r="1.8"/><circle cx="427.6" cy="276.7" r="1.8"/><circle cx="429.1" cy="275.2" r="1.8"/><circle cx="429.7" cy="274.6" r="1.8"/><circle cx="430.1" cy="274.5" r="1.8"/><circle cx="421.2" cy="281.9" r="1.8"/><circle cx="413.5" cy="289.3" r="1.8"/><circle cx="423.2" cy="281.6" r="1.8"/><circle cx="410.1" cy="292.8" r="1.8"/><circle cx="419.2" cy="283.5" r="1.8"/><circle cx="429.2" cy="274.8" r="1.8"/><circle cx="419.1" cy="284.3" r="1.8"/><circle cx="416.9" cy="286.1" r="1.8"/><circle cx="421.5" cy="281.9" r="1.8"/><circle cx="410.0" cy="292.7" r="1.8"/><circle cx="425.2" cy="278.9" r="1.8"/><circle cx="411.0" cy="292.7" r="1.8"/><circle cx="427.8" cy="276.3" r="1.8"/><circle cx="420.5" cy="282.9" r="1.8"/><circle cx="420.1" cy="283.6" r="1.8"/><circle cx="429.4" cy="274.2" r="1.8"/><circle cx="419.8" cy="282.7" r="1.8"/><circle cx="422.5" cy="280.3" r="1.8"/><circle cx="425.0" cy="278.0" r="1.8"/><circle cx="418.2" cy="284.6" r="1.8"/><circle cx="427.6" cy="276.2" r="1.8"/><circle cx="423.1" cy="280.7" r="1.8"/><circle cx="421.4" cy="282.1" r="1.8"/><circle cx="411.4" cy="291.3" r="1.8"/><circle cx="417.5" cy="286.4" r="1.8"/><circle cx="413.2" cy="289.6" r="1.8"/><circle cx="410.3" cy="292.1" r="1.8"/><circle cx="417.0" cy="286.1" r="1.8"/><circle cx="415.5" cy="288.2" r="1.8"/><circle cx="423.1" cy="280.8" r="1.8"/><circle cx="425.2" cy="277.8" r="1.8"/><circle cx="422.8" cy="281.1" r="1.8"/><circle cx="424.8" cy="279.1" r="1.8"/><circle cx="413.9" cy="289.0" r="1.8"/><circle cx="428.7" cy="276.4" r="1.8"/><circle cx="419.9" cy="284.0" r="1.8"/><circle cx="417.4" cy="285.3" r="1.8"/><circle cx="410.6" cy="292.1" r="1.8"/><circle cx="417.0" cy="285.4" r="1.8"/><circle cx="419.5" cy="284.4" r="1.8"/><circle cx="411.2" cy="291.3" r="1.8"/><circle cx="415.1" cy="288.0" r="1.8"/><circle cx="410.0" cy="292.2" r="1.8"/><circle cx="425.0" cy="278.9" r="1.8"/><circle cx="422.6" cy="280.5" r="1.8"/><circle cx="412.4" cy="290.2" r="1.8"/><circle cx="419.8" cy="283.9" r="1.8"/><circle cx="422.9" cy="281.3" r="1.8"/><circle cx="428.0" cy="275.8" r="1.8"/><circle cx="418.5" cy="285.3" r="1.8"/><circle cx="410.9" cy="291.9" r="1.8"/><circle cx="428.8" cy="275.4" r="1.8"/><circle cx="421.9" cy="281.2" r="1.8"/><circle cx="424.1" cy="279.3" r="1.8"/><circle cx="410.2" cy="292.6" r="1.8"/><circle cx="424.6" cy="278.3" r="1.8"/><circle cx="428.3" cy="275.3" r="1.8"/><circle cx="410.9" cy="291.9" r="1.8"/><circle cx="419.7" cy="283.8" r="1.8"/><circle cx="430.8" cy="273.2" r="1.8"/><circle cx="416.0" cy="286.8" r="1.8"/><circle cx="417.3" cy="286.3" r="1.8"/><circle cx="416.0" cy="287.0" r="1.8"/><circle cx="428.6" cy="275.6" r="1.8"/><circle cx="423.9" cy="279.5" r="1.8"/><circle cx="422.5" cy="280.9" r="1.8"/><circle cx="418.5" cy="284.5" r="1.8"/><circle cx="411.3" cy="291.2" r="1.8"/><circle cx="427.6" cy="276.5" r="1.8"/><circle cx="437.4" cy="264.7" r="1.8"/><circle cx="435.8" cy="268.0" r="1.8"/><circle cx="436.2" cy="267.1" r="1.8"/><circle cx="436.2" cy="267.0" r="1.8"/><circle cx="437.3" cy="265.3" r="1.8"/><circle cx="436.6" cy="266.4" r="1.8"/><circle cx="435.6" cy="266.4" r="1.8"/><circle cx="437.7" cy="264.8" r="1.8"/><circle cx="436.7" cy="265.5" r="1.8"/><circle cx="437.5" cy="264.0" r="1.8"/><circle cx="437.3" cy="265.7" r="1.8"/><circle cx="436.0" cy="265.8" r="1.8"/><circle cx="446.2" cy="256.9" r="1.8"/><circle cx="444.1" cy="259.9" r="1.8"/><circle cx="446.2" cy="255.4" r="1.8"/><circle cx="444.4" cy="260.5" r="1.8"/><circle cx="446.1" cy="255.5" r="1.8"/><circle cx="445.7" cy="257.6" r="1.8"/><circle cx="443.4" cy="261.1" r="1.8"/><circle cx="446.0" cy="256.9" r="1.8"/><circle cx="445.5" cy="257.4" r="1.8"/><circle cx="447.3" cy="255.9" r="1.8"/><circle cx="446.0" cy="256.8" r="1.8"/><circle cx="444.1" cy="260.5" r="1.8"/><circle cx="446.0" cy="256.1" r="1.8"/><circle cx="445.0" cy="259.0" r="1.8"/><circle cx="452.4" cy="252.7" r="1.8"/><circle cx="455.1" cy="249.0" r="1.8"/><circle cx="455.3" cy="248.9" r="1.8"/><circle cx="454.0" cy="249.2" r="1.8"/><circle cx="454.4" cy="250.9" r="1.8"/><circle cx="450.5" cy="254.3" r="1.8"/><circle cx="455.7" cy="248.5" r="1.8"/><circle cx="451.6" cy="252.7" r="1.8"/><circle cx="450.7" cy="253.9" r="1.8"/><circle cx="459.4" cy="244.4" r="1.8"/><circle cx="460.5" cy="242.5" r="1.8"/><circle cx="451.9" cy="252.0" r="1.8"/><circle cx="460.4" cy="243.0" r="1.8"/><circle cx="456.4" cy="247.1" r="1.8"/><circle cx="452.5" cy="251.2" r="1.8"/><circle cx="452.7" cy="251.9" r="1.8"/><circle cx="459.0" cy="245.1" r="1.8"/><circle cx="452.4" cy="252.8" r="1.8"/><circle cx="460.1" cy="242.2" r="1.8"/><circle cx="452.7" cy="251.5" r="1.8"/><circle cx="451.7" cy="252.5" r="1.8"/><circle cx="455.3" cy="247.6" r="1.8"/><circle cx="456.9" cy="246.7" r="1.8"/><circle cx="451.5" cy="252.1" r="1.8"/><circle cx="460.0" cy="244.1" r="1.8"/><circle cx="459.1" cy="244.7" r="1.8"/><circle cx="455.4" cy="248.1" r="1.8"/><circle cx="455.3" cy="249.3" r="1.8"/><circle cx="449.6" cy="255.0" r="1.8"/><circle cx="450.9" cy="253.6" r="1.8"/><circle cx="457.4" cy="246.9" r="1.8"/><circle cx="456.2" cy="248.3" r="1.8"/><circle cx="452.1" cy="253.5" r="1.8"/><circle cx="452.9" cy="250.6" r="1.8"/><circle cx="458.0" cy="246.2" r="1.8"/><circle cx="461.3" cy="241.9" r="1.8"/><circle cx="479.5" cy="224.8" r="1.8"/><circle cx="478.7" cy="225.5" r="1.8"/><circle cx="477.8" cy="228.7" r="1.8"/><circle cx="478.4" cy="226.4" r="1.8"/><circle cx="478.5" cy="227.1" r="1.8"/><circle cx="478.4" cy="227.4" r="1.8"/><circle cx="479.7" cy="224.3" r="1.8"/><circle cx="477.7" cy="227.9" r="1.8"/><circle cx="479.5" cy="224.3" r="1.8"/><circle cx="478.6" cy="227.2" r="1.8"/><circle cx="478.8" cy="226.4" r="1.8"/><circle cx="478.6" cy="225.1" r="1.8"/><circle cx="480.5" cy="222.5" r="1.8"/><circle cx="482.0" cy="220.0" r="1.8"/><circle cx="483.3" cy="217.6" r="1.8"/><circle cx="498.3" cy="207.4" r="1.8"/><circle cx="499.0" cy="202.7" r="1.8"/><circle cx="499.4" cy="202.8" r="1.8"/><circle cx="498.8" cy="201.6" r="1.8"/><circle cx="498.9" cy="200.6" r="1.8"/><circle cx="498.9" cy="205.1" r="1.8"/><circle cx="498.9" cy="203.4" r="1.8"/><circle cx="498.5" cy="203.5" r="1.8"/><circle cx="498.7" cy="203.0" r="1.8"/><circle cx="498.4" cy="204.4" r="1.8"/><circle cx="498.4" cy="205.2" r="1.8"/><circle cx="499.5" cy="200.8" r="1.8"/><circle cx="498.9" cy="202.4" r="1.8"/><circle cx="498.7" cy="203.3" r="1.8"/><circle cx="501.0" cy="200.5" r="1.8"/><circle cx="502.5" cy="199.5" r="1.8"/><circle cx="504.2" cy="198.2" r="1.8"/><circle cx="529.9" cy="171.8" r="1.8"/><circle cx="529.9" cy="171.0" r="1.8"/><circle cx="530.0" cy="172.4" r="1.8"/><circle cx="528.7" cy="176.0" r="1.8"/><circle cx="529.6" cy="175.3" r="1.8"/><circle cx="528.7" cy="175.7" r="1.8"/><circle cx="529.1" cy="176.6" r="1.8"/><circle cx="529.1" cy="178.2" r="1.8"/><circle cx="528.9" cy="175.0" r="1.8"/><circle cx="529.9" cy="171.8" r="1.8"/><circle cx="529.3" cy="176.2" r="1.8"/><circle cx="529.0" cy="175.7" r="1.8"/><circle cx="529.3" cy="175.6" r="1.8"/><circle cx="529.3" cy="174.0" r="1.8"/><circle cx="534.4" cy="168.2" r="1.8"/><circle cx="532.2" cy="168.3" r="1.8"/><circle cx="530.3" cy="169.0" r="1.8"/><circle cx="532.0" cy="169.0" r="1.8"/><circle cx="533.2" cy="168.7" r="1.8"/><circle cx="532.5" cy="169.0" r="1.8"/><circle cx="534.9" cy="167.4" r="1.8"/><circle cx="531.0" cy="169.5" r="1.8"/><circle cx="532.9" cy="168.2" r="1.8"/><circle cx="532.7" cy="168.9" r="1.8"/><circle cx="538.9" cy="168.4" r="1.8"/><circle cx="549.0" cy="153.5" r="1.8"/><circle cx="548.7" cy="153.4" r="1.8"/><circle cx="548.4" cy="157.2" r="1.8"/><circle cx="549.1" cy="154.7" r="1.8"/><circle cx="547.9" cy="156.5" r="1.8"/><circle cx="548.3" cy="153.6" r="1.8"/><circle cx="548.2" cy="157.4" r="1.8"/><circle cx="549.3" cy="151.6" r="1.8"/><circle cx="548.3" cy="151.8" r="1.8"/><circle cx="548.1" cy="155.6" r="1.8"/><circle cx="548.6" cy="155.5" r="1.8"/><circle cx="547.8" cy="157.4" r="1.8"/><circle cx="552.1" cy="150.8" r="1.8"/><circle cx="550.1" cy="151.7" r="1.8"/><circle cx="549.2" cy="151.5" r="1.8"/><circle cx="551.9" cy="151.0" r="1.8"/><circle cx="550.0" cy="150.3" r="1.8"/><circle cx="550.2" cy="150.9" r="1.8"/><circle cx="549.4" cy="151.3" r="1.8"/><circle cx="556.0" cy="148.9" r="1.8"/><circle cx="558.5" cy="147.8" r="1.8"/><circle cx="607.9" cy="94.4" r="1.8"/><circle cx="607.2" cy="96.3" r="1.8"/><circle cx="609.3" cy="92.3" r="1.8"/><circle cx="610.0" cy="92.2" r="1.8"/><circle cx="607.5" cy="96.4" r="1.8"/><circle cx="606.9" cy="96.0" r="1.8"/><circle cx="608.3" cy="94.1" r="1.8"/><circle cx="609.7" cy="93.1" r="1.8"/><circle cx="607.1" cy="95.8" r="1.8"/><circle cx="607.3" cy="95.8" r="1.8"/><circle cx="609.4" cy="92.6" r="1.8"/><circle cx="607.1" cy="96.3" r="1.8"/><circle cx="609.8" cy="92.6" r="1.8"/><circle cx="608.2" cy="93.7" r="1.8"/><circle cx="608.5" cy="93.7" r="1.8"/><circle cx="609.5" cy="92.7" r="1.8"/><circle cx="611.5" cy="92.0" r="1.8"/><circle cx="614.8" cy="90.8" r="1.8"/><circle cx="617.6" cy="86.8" r="1.8"/><circle cx="622.2" cy="85.1" r="1.8"/><circle cx="623.3" cy="84.5" r="1.8"/><circle cx="617.0" cy="85.1" r="1.8"/><circle cx="661.8" cy="42.4" r="1.8"/><circle cx="661.9" cy="43.0" r="1.8"/><circle cx="663.9" cy="38.0" r="1.8"/><circle cx="664.0" cy="37.7" r="1.8"/><circle cx="662.5" cy="41.1" r="1.8"/><circle cx="663.7" cy="38.5" r="1.8"/><circle cx="663.0" cy="39.8" r="1.8"/><circle cx="662.7" cy="41.1" r="1.8"/><circle cx="663.2" cy="37.5" r="1.8"/><circle cx="663.1" cy="37.4" r="1.8"/><circle cx="663.4" cy="39.6" r="1.8"/><circle cx="662.7" cy="40.9" r="1.8"/><circle cx="665.1" cy="36.4" r="1.8"/><circle cx="664.5" cy="36.5" r="1.8"/><circle cx="664.9" cy="35.0" r="1.8"/><circle cx="664.6" cy="36.2" r="1.8"/><circle cx="663.8" cy="36.0" r="1.8"/><circle cx="668.0" cy="33.0" r="1.8"/><circle cx="670.7" cy="30.6" r="1.8"/><circle cx="673.9" cy="26.8" r="1.8"/><circle cx="674.5" cy="27.3" r="1.8"/><circle cx="680.8" cy="26.1" r="1.8"/><circle cx="681.4" cy="25.0" r="1.8"/><circle cx="680.9" cy="24.9" r="1.8"/></g>
<text x="187.6" y="12" text-anchor="middle" class="ti" textLength="127.5">Training processes</text>
<text x="539.3" y="12" text-anchor="middle" class="ti" textLength="120">Testing processes</text>
<text x="186.4" y="347" text-anchor="middle" class="xl" textLength="44.5">Target</text>
<text x="537.9" y="347" text-anchor="middle" class="xl" textLength="44.5">Target</text>
<text transform="translate(13.4,164.4) rotate(-90)" text-anchor="middle" class="xl" textLength="52">Output</text>
<text transform="translate(365.2,164.4) rotate(-90)" text-anchor="middle" class="xl" textLength="52">Output</text>
<rect x="49.5" y="28.3" width="158.7" height="94.7" fill="#fff" stroke="#909090" stroke-width="1"/>
<circle cx="65.7" cy="44.8" r="1.8" fill="none" stroke="#0000ff" stroke-width="0.9"/>
<line x1="52.1" y1="67.8" x2="79.0" y2="67.8" stroke="#0000ff" stroke-width="2"/>
<line x1="52.1" y1="83.6" x2="78.0" y2="83.6" stroke="#777" stroke-width="0.6" stroke-dasharray="1 1.2"/>
<circle cx="65.5" cy="107.0" r="1.8" fill="none" stroke="#ff0000" stroke-width="0.9"/>
<text x="81.1" y="39.6" class="lg" textLength="124" lengthAdjust="spacing">ACOFIS, <tspan font-style="italic">R</tspan><tspan dy="-4.8" font-size="9">2</tspan><tspan dy="4.8">=0.99114</tspan></text>
<text x="85.5" y="55.5" class="lg" textLength="70.3">, R=0.99556</text>
<text x="81.1" y="70.9" class="lg" textLength="15.8">Fit</text>
<text x="81.1" y="86.6" class="lg">Y</text>
<text x="95.1" y="86.6" class="lg">=</text>
<text x="110.3" y="86.6" class="lg">T</text>
<text x="81.1" y="102.0" class="lg" textLength="115">ANFIS, <tspan font-style="italic">R</tspan><tspan dy="-4.8" font-size="9">2</tspan><tspan dy="4.8">=0.99989</tspan></text>
<text x="81.1" y="117.8" class="lg" textLength="70.5">, R=0.99995</text>
<rect x="401.5" y="28.3" width="158.7" height="94.7" fill="#fff" stroke="#909090" stroke-width="1"/>
<circle cx="417.7" cy="44.8" r="1.8" fill="none" stroke="#0000ff" stroke-width="0.9"/>
<line x1="404.1" y1="67.8" x2="431.0" y2="67.8" stroke="#14e614" stroke-width="2"/>
<line x1="404.1" y1="83.6" x2="430.0" y2="83.6" stroke="#777" stroke-width="0.6" stroke-dasharray="1 1.2"/>
<circle cx="417.5" cy="107.0" r="1.8" fill="none" stroke="#ff0000" stroke-width="0.9"/>
<text x="433.1" y="39.6" class="lg" textLength="124" lengthAdjust="spacing">ACOFIS, <tspan font-style="italic">R</tspan><tspan dy="-4.8" font-size="9">2</tspan><tspan dy="4.8">=0.98711</tspan></text>
<text x="433.1" y="55.5" class="lg" textLength="70.3">, R=0.99353</text>
<text x="433.1" y="70.9" class="lg" textLength="15.8">Fit</text>
<text x="433.1" y="86.6" class="lg">Y</text>
<text x="447.1" y="86.6" class="lg">=</text>
<text x="462.3" y="86.6" class="lg">T</text>
<text x="433.1" y="102.0" class="lg" textLength="115">ANFIS, <tspan font-style="italic">R</tspan><tspan dy="-4.8" font-size="9">2</tspan><tspan dy="4.8">=0.99988</tspan></text>
<text x="433.1" y="117.8" class="lg" textLength="70.5">, R=0.99994</text>
</svg>
</body></html>
